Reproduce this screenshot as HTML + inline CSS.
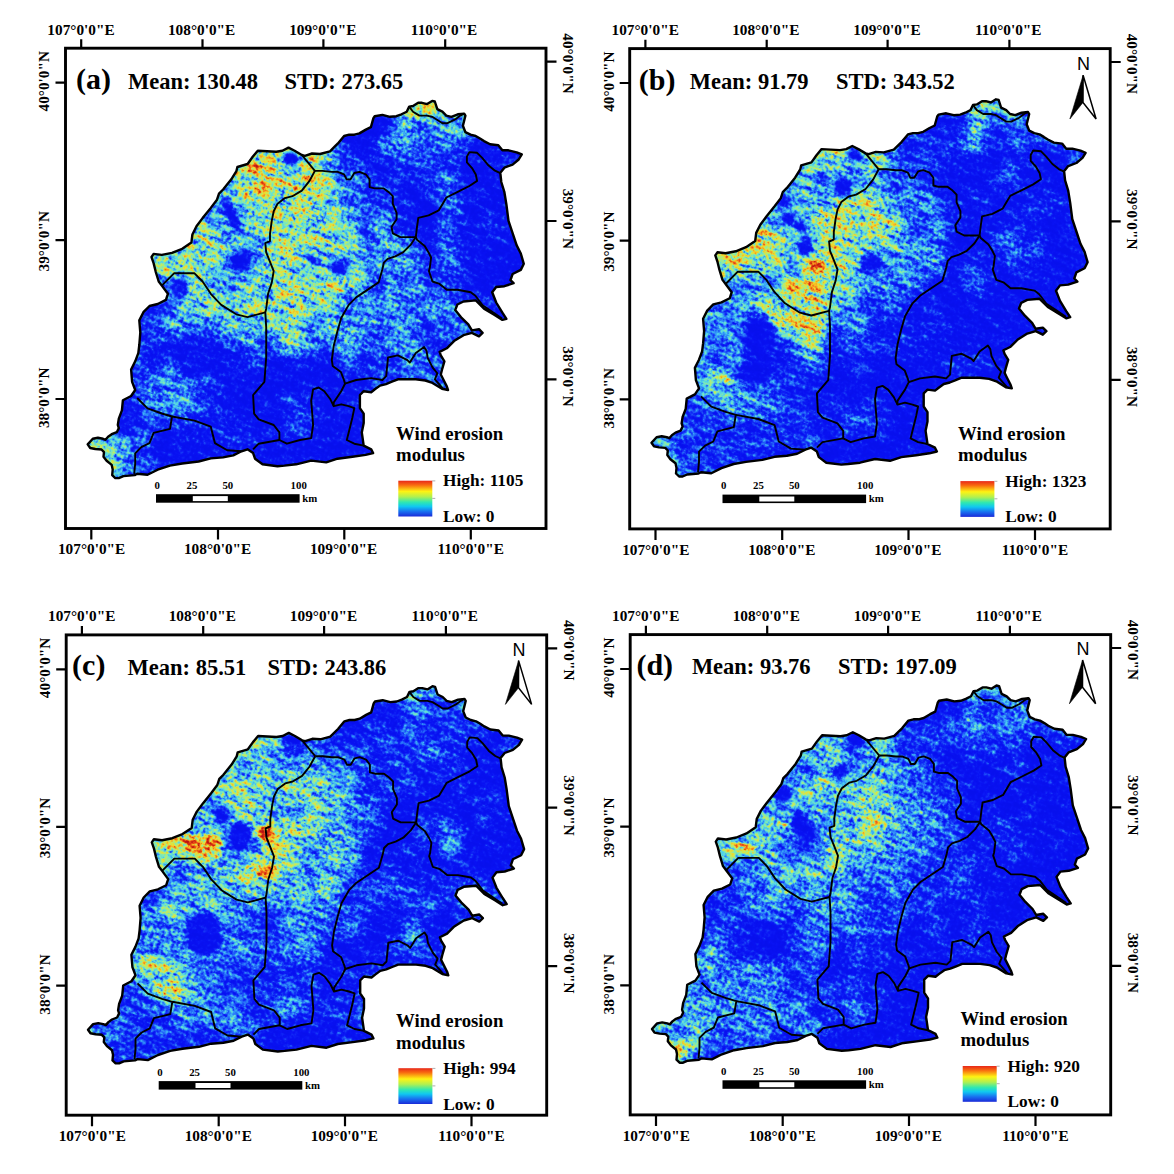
<!DOCTYPE html>
<html><head><meta charset="utf-8"><title>Wind erosion modulus maps</title>
<style>html,body{margin:0;padding:0;background:#fff;}body{width:1174px;height:1174px;overflow:hidden;}svg{display:block;}</style>
</head><body>
<svg width="1174" height="1174" viewBox="0 0 1174 1174" font-family="Liberation Serif, Times New Roman, serif" font-weight="bold" fill="#000">
<rect width="1174" height="1174" fill="#fff"/>
<defs>
<path id="outline" d="M151.5,257.0 L153.6,253.9 L161.8,254.9 L172.0,252.9 L182.2,248.8 L191.4,242.6 L192.4,234.5 L196.5,226.3 L202.6,218.1 L210.8,207.9 L217.0,199.7 L219.0,193.6 L223.1,189.5 L231.3,179.3 L236.4,171.1 L237.4,167.0 L247.6,164.0 L252.7,156.8 L257.8,150.7 L276.2,151.7 L282.4,150.7 L288.5,147.6 L294.6,150.7 L301.8,155.0 L304.9,155.8 L312.0,153.5 L320.0,154.0 L330.0,151.3 L335.1,146.2 L337.7,143.7 L344.1,136.0 L349.2,134.7 L354.3,134.7 L359.4,133.4 L365.8,129.6 L370.9,127.1 L373.4,118.1 L374.7,116.2 L382.4,114.9 L390.0,116.8 L396.4,116.2 L401.5,114.3 L406.7,111.7 L409.2,106.6 L413.0,106.0 L418.2,102.8 L422.0,102.8 L427.1,104.1 L432.2,100.9 L434.8,101.5 L437.3,109.2 L442.4,111.7 L446.3,115.6 L451.4,116.8 L457.8,114.3 L464.2,113.6 L465.4,115.6 L462.9,125.8 L465.4,132.2 L470.5,134.7 L475.7,136.0 L480.0,138.5 L484.0,141.1 L490.1,144.2 L498.3,145.2 L502.4,150.3 L508.5,150.3 L516.7,152.3 L521.8,154.4 L518.7,159.5 L512.6,164.6 L504.4,167.7 L500.3,172.8 L501.3,182.0 L504.4,192.2 L506.4,204.5 L508.5,220.8 L512.6,233.1 L516.7,245.4 L520.8,253.5 L523.8,263.8 L520.8,269.9 L512.6,274.0 L510.5,280.1 L513.6,283.2 L504.4,286.2 L496.2,287.0 L492.2,292.3 L496.2,302.5 L502.4,312.7 L506.4,318.8 L502.4,319.9 L494.2,314.8 L484.0,308.6 L475.8,300.4 L463.5,301.5 L457.4,304.5 L455.2,310.1 L461.1,317.3 L468.3,324.4 L471.9,330.4 L479.0,329.2 L482.6,332.8 L479.0,336.3 L471.9,332.8 L463.5,335.2 L454.0,341.1 L446.8,348.3 L439.6,351.9 L440.8,355.4 L444.4,361.4 L442.0,369.7 L440.8,374.5 L443.2,379.3 L446.8,386.4 L448.0,390.0 L442.0,388.8 L432.5,382.9 L425.3,380.5 L415.8,379.3 L397.9,379.3 L391.9,381.7 L386.0,384.1 L380.0,385.6 L374.9,389.3 L371.2,392.2 L363.7,391.2 L359.9,395.0 L359.9,408.1 L363.7,413.7 L363.7,423.1 L361.8,432.4 L363.7,445.6 L371.2,449.3 L373.1,453.1 L365.6,454.9 L352.4,456.8 L337.5,458.7 L326.2,462.4 L311.2,460.6 L296.2,464.3 L284.4,465.6 L277.5,466.2 L262.5,464.3 L255.0,458.7 L253.1,453.1 L247.5,449.3 L241.5,451.3 L233.3,455.4 L223.1,457.4 L210.8,458.4 L198.6,461.5 L182.2,463.5 L169.9,465.6 L157.7,469.7 L147.5,474.8 L137.2,473.8 L134.7,475.1 L129.1,475.6 L123.4,476.1 L118.8,478.1 L115.3,478.1 L112.2,475.1 L112.7,469.5 L111.7,464.9 L106.6,460.8 L103.5,456.7 L104.0,452.1 L101.5,449.5 L95.3,449.0 L90.2,448.0 L87.7,444.4 L92.8,438.8 L97.9,437.8 L103.0,438.8 L105.5,439.8 L108.1,436.8 L111.7,434.2 L116.8,432.2 L118.8,428.1 L117.8,425.0 L118.8,418.6 L121.9,410.4 L122.9,400.2 L131.1,396.0 L135.2,390.0 L132.1,381.8 L131.1,369.5 L135.2,361.3 L138.3,353.1 L139.3,345.0 L140.3,332.7 L139.3,320.4 L143.4,312.2 L149.5,306.0 L157.7,304.0 L165.9,299.9 L167.9,293.8 L161.8,285.6 L158.7,281.5 L155.6,271.3 L153.6,263.1 Z"/>
<clipPath id="clip"><use href="#outline"/></clipPath>
<linearGradient id="ramp" x1="0" y1="0" x2="0" y2="1">
<stop offset="0" stop-color="#e8281a"/>
<stop offset="0.12" stop-color="#f86a10"/>
<stop offset="0.3" stop-color="#fef313"/>
<stop offset="0.45" stop-color="#b0f050"/>
<stop offset="0.6" stop-color="#30e8b0"/>
<stop offset="0.72" stop-color="#10c8f0"/>
<stop offset="0.86" stop-color="#1870f0"/>
<stop offset="1" stop-color="#1a2ad8"/>
</linearGradient>
<filter id="gb" x="50" y="65" width="505" height="440" filterUnits="userSpaceOnUse" color-interpolation-filters="sRGB"><feGaussianBlur stdDeviation="6.5"/></filter>
<filter id="fa" x="-20" y="-40" width="640" height="660" filterUnits="userSpaceOnUse" color-interpolation-filters="sRGB">
<feGaussianBlur in="SourceGraphic" stdDeviation="2.2" result="fld"/>
<feTurbulence type="fractalNoise" baseFrequency="0.3" numOctaves="2" seed="3" result="n1"/>
<feColorMatrix in="n1" type="matrix" values="1 0 0 0 0  1 0 0 0 0  1 0 0 0 0  0 0 0 0 1" result="g1"/>
<feTurbulence type="fractalNoise" baseFrequency="0.05 0.18" numOctaves="3" seed="103" result="n2"/>
<feColorMatrix in="n2" type="matrix" values="1 0 0 0 0  1 0 0 0 0  1 0 0 0 0  0 0 0 0 1" result="g2"/>
<feComposite in="g1" in2="g2" operator="arithmetic" k1="0" k2="1.0" k3="0.9" k4="-0.45" result="nn"/>
<feComposite in="fld" in2="nn" operator="arithmetic" k1="1.0" k2="0.5" k3="0.3" k4="-0.15" result="v"/>
<feComponentTransfer in="v" result="c">
<feFuncR type="table" tableValues="0.031 0.032 0.033 0.034 0.035 0.041 0.051 0.061 0.084 0.111 0.137 0.162 0.186 0.221 0.263 0.305 0.357 0.412 0.466 0.525 0.601 0.678 0.754 0.814 0.863 0.912 0.961 0.961 0.961 0.961 0.961 0.952 0.937 0.923 0.908 0.882 0.850 0.817 0.784 0.745 0.706"/>
<feFuncG type="table" tableValues="0.063 0.065 0.066 0.068 0.070 0.087 0.115 0.143 0.218 0.305 0.392 0.474 0.556 0.643 0.734 0.825 0.861 0.882 0.904 0.922 0.922 0.922 0.922 0.912 0.895 0.879 0.863 0.791 0.720 0.649 0.578 0.502 0.424 0.345 0.267 0.216 0.183 0.150 0.118 0.098 0.078"/>
<feFuncB type="table" tableValues="0.933 0.939 0.944 0.949 0.955 0.959 0.961 0.964 0.969 0.975 0.980 0.980 0.980 0.968 0.947 0.926 0.874 0.814 0.754 0.686 0.588 0.490 0.392 0.320 0.266 0.211 0.157 0.148 0.139 0.130 0.121 0.112 0.102 0.092 0.082 0.078 0.078 0.078 0.078 0.078 0.078"/>
<feFuncA type="linear" slope="0" intercept="1"/>
</feComponentTransfer>
<feGaussianBlur in="c" stdDeviation="0.5"/>
</filter>
<filter id="fb" x="-20" y="-40" width="640" height="660" filterUnits="userSpaceOnUse" color-interpolation-filters="sRGB">
<feGaussianBlur in="SourceGraphic" stdDeviation="2.2" result="fld"/>
<feTurbulence type="fractalNoise" baseFrequency="0.3" numOctaves="2" seed="7" result="n1"/>
<feColorMatrix in="n1" type="matrix" values="1 0 0 0 0  1 0 0 0 0  1 0 0 0 0  0 0 0 0 1" result="g1"/>
<feTurbulence type="fractalNoise" baseFrequency="0.05 0.18" numOctaves="3" seed="107" result="n2"/>
<feColorMatrix in="n2" type="matrix" values="1 0 0 0 0  1 0 0 0 0  1 0 0 0 0  0 0 0 0 1" result="g2"/>
<feComposite in="g1" in2="g2" operator="arithmetic" k1="0" k2="1.0" k3="0.9" k4="-0.45" result="nn"/>
<feComposite in="fld" in2="nn" operator="arithmetic" k1="1.0" k2="0.5" k3="0.3" k4="-0.15" result="v"/>
<feComponentTransfer in="v" result="c">
<feFuncR type="table" tableValues="0.031 0.032 0.033 0.034 0.035 0.041 0.051 0.061 0.084 0.111 0.137 0.162 0.186 0.221 0.263 0.305 0.357 0.412 0.466 0.525 0.601 0.678 0.754 0.814 0.863 0.912 0.961 0.961 0.961 0.961 0.961 0.952 0.937 0.923 0.908 0.882 0.850 0.817 0.784 0.745 0.706"/>
<feFuncG type="table" tableValues="0.063 0.065 0.066 0.068 0.070 0.087 0.115 0.143 0.218 0.305 0.392 0.474 0.556 0.643 0.734 0.825 0.861 0.882 0.904 0.922 0.922 0.922 0.922 0.912 0.895 0.879 0.863 0.791 0.720 0.649 0.578 0.502 0.424 0.345 0.267 0.216 0.183 0.150 0.118 0.098 0.078"/>
<feFuncB type="table" tableValues="0.933 0.939 0.944 0.949 0.955 0.959 0.961 0.964 0.969 0.975 0.980 0.980 0.980 0.968 0.947 0.926 0.874 0.814 0.754 0.686 0.588 0.490 0.392 0.320 0.266 0.211 0.157 0.148 0.139 0.130 0.121 0.112 0.102 0.092 0.082 0.078 0.078 0.078 0.078 0.078 0.078"/>
<feFuncA type="linear" slope="0" intercept="1"/>
</feComponentTransfer>
<feGaussianBlur in="c" stdDeviation="0.5"/>
</filter>
<filter id="fc" x="-20" y="-40" width="640" height="660" filterUnits="userSpaceOnUse" color-interpolation-filters="sRGB">
<feGaussianBlur in="SourceGraphic" stdDeviation="2.2" result="fld"/>
<feTurbulence type="fractalNoise" baseFrequency="0.3" numOctaves="2" seed="11" result="n1"/>
<feColorMatrix in="n1" type="matrix" values="1 0 0 0 0  1 0 0 0 0  1 0 0 0 0  0 0 0 0 1" result="g1"/>
<feTurbulence type="fractalNoise" baseFrequency="0.05 0.18" numOctaves="3" seed="111" result="n2"/>
<feColorMatrix in="n2" type="matrix" values="1 0 0 0 0  1 0 0 0 0  1 0 0 0 0  0 0 0 0 1" result="g2"/>
<feComposite in="g1" in2="g2" operator="arithmetic" k1="0" k2="1.0" k3="0.9" k4="-0.45" result="nn"/>
<feComposite in="fld" in2="nn" operator="arithmetic" k1="1.0" k2="0.5" k3="0.3" k4="-0.15" result="v"/>
<feComponentTransfer in="v" result="c">
<feFuncR type="table" tableValues="0.031 0.032 0.033 0.034 0.035 0.041 0.051 0.061 0.084 0.111 0.137 0.162 0.186 0.221 0.263 0.305 0.357 0.412 0.466 0.525 0.601 0.678 0.754 0.814 0.863 0.912 0.961 0.961 0.961 0.961 0.961 0.952 0.937 0.923 0.908 0.882 0.850 0.817 0.784 0.745 0.706"/>
<feFuncG type="table" tableValues="0.063 0.065 0.066 0.068 0.070 0.087 0.115 0.143 0.218 0.305 0.392 0.474 0.556 0.643 0.734 0.825 0.861 0.882 0.904 0.922 0.922 0.922 0.922 0.912 0.895 0.879 0.863 0.791 0.720 0.649 0.578 0.502 0.424 0.345 0.267 0.216 0.183 0.150 0.118 0.098 0.078"/>
<feFuncB type="table" tableValues="0.933 0.939 0.944 0.949 0.955 0.959 0.961 0.964 0.969 0.975 0.980 0.980 0.980 0.968 0.947 0.926 0.874 0.814 0.754 0.686 0.588 0.490 0.392 0.320 0.266 0.211 0.157 0.148 0.139 0.130 0.121 0.112 0.102 0.092 0.082 0.078 0.078 0.078 0.078 0.078 0.078"/>
<feFuncA type="linear" slope="0" intercept="1"/>
</feComponentTransfer>
<feGaussianBlur in="c" stdDeviation="0.5"/>
</filter>
<filter id="fd" x="-20" y="-40" width="640" height="660" filterUnits="userSpaceOnUse" color-interpolation-filters="sRGB">
<feGaussianBlur in="SourceGraphic" stdDeviation="2.2" result="fld"/>
<feTurbulence type="fractalNoise" baseFrequency="0.3" numOctaves="2" seed="17" result="n1"/>
<feColorMatrix in="n1" type="matrix" values="1 0 0 0 0  1 0 0 0 0  1 0 0 0 0  0 0 0 0 1" result="g1"/>
<feTurbulence type="fractalNoise" baseFrequency="0.05 0.18" numOctaves="3" seed="117" result="n2"/>
<feColorMatrix in="n2" type="matrix" values="1 0 0 0 0  1 0 0 0 0  1 0 0 0 0  0 0 0 0 1" result="g2"/>
<feComposite in="g1" in2="g2" operator="arithmetic" k1="0" k2="1.0" k3="0.9" k4="-0.45" result="nn"/>
<feComposite in="fld" in2="nn" operator="arithmetic" k1="1.0" k2="0.5" k3="0.3" k4="-0.15" result="v"/>
<feComponentTransfer in="v" result="c">
<feFuncR type="table" tableValues="0.031 0.032 0.033 0.034 0.035 0.041 0.051 0.061 0.084 0.111 0.137 0.162 0.186 0.221 0.263 0.305 0.357 0.412 0.466 0.525 0.601 0.678 0.754 0.814 0.863 0.912 0.961 0.961 0.961 0.961 0.961 0.952 0.937 0.923 0.908 0.882 0.850 0.817 0.784 0.745 0.706"/>
<feFuncG type="table" tableValues="0.063 0.065 0.066 0.068 0.070 0.087 0.115 0.143 0.218 0.305 0.392 0.474 0.556 0.643 0.734 0.825 0.861 0.882 0.904 0.922 0.922 0.922 0.922 0.912 0.895 0.879 0.863 0.791 0.720 0.649 0.578 0.502 0.424 0.345 0.267 0.216 0.183 0.150 0.118 0.098 0.078"/>
<feFuncB type="table" tableValues="0.933 0.939 0.944 0.949 0.955 0.959 0.961 0.964 0.969 0.975 0.980 0.980 0.980 0.968 0.947 0.926 0.874 0.814 0.754 0.686 0.588 0.490 0.392 0.320 0.266 0.211 0.157 0.148 0.139 0.130 0.121 0.112 0.102 0.092 0.082 0.078 0.078 0.078 0.078 0.078 0.078"/>
<feFuncA type="linear" slope="0" intercept="1"/>
</feComponentTransfer>
<feGaussianBlur in="c" stdDeviation="0.5"/>
</filter>
</defs>
<g transform="translate(0,0)">
<rect x="65.5" y="48.2" width="480.5" height="480.3" fill="none" stroke="#000" stroke-width="2.9"/>
<path d="M81.2,39.3 V48.2 M202.5,39.3 V48.2 M323.4,39.3 V48.2 M445.2,39.3 V48.2 M91.3,528.5 V539.6 M218,528.5 V539.6 M344.3,528.5 V539.6 M470.8,528.5 V539.6 M55.5,82.6 H65.5 M55.5,240.2 H65.5 M55.5,399 H65.5 M546,61.6 H556.5 M546,221 H556.5 M546,379.4 H556.5" stroke="#000" stroke-width="2.2" fill="none"/>
<g font-size="15.3" text-anchor="middle">
<text x="81.0" y="34.8">107°0'0"E</text>
<text x="201.6" y="34.8">108°0'0"E</text>
<text x="322.8" y="34.8">109°0'0"E</text>
<text x="444.1" y="34.8">110°0'0"E</text>
<text x="91.6" y="554.3">107°0'0"E</text>
<text x="217.6" y="554.3">108°0'0"E</text>
<text x="343.6" y="554.3">109°0'0"E</text>
<text x="470.7" y="554.3">110°0'0"E</text>
<text transform="translate(49.3,81.2) rotate(-90)">40°0'0"N</text>
<text transform="translate(49.3,241.2) rotate(-90)">39°0'0"N</text>
<text transform="translate(49.3,397.8) rotate(-90)">38°0'0"N</text>
<text transform="translate(562.8,63.5) rotate(90)">40°0'0"N</text>
<text transform="translate(562.8,218.9) rotate(90)">39°0'0"N</text>
<text transform="translate(562.8,376.5) rotate(90)">38°0'0"N</text>
</g>
<text x="76.1" y="89.39999999999999" font-size="30">(a)</text>
<text x="128.1" y="88.8" font-size="22.5">Mean: 130.48</text>
<text x="284.6" y="88.8" font-size="22.5">STD: 273.65</text>
<g transform="translate(0,0)">
<g clip-path="url(#clip)"><g transform="rotate(22 300 290)" filter="url(#fa)"><g transform="rotate(-22 300 290)">
<g filter="url(#gb)">
<rect x="60" y="75" width="40" height="20" fill="rgb(97,97,97)"/>
<rect x="100" y="75" width="40" height="20" fill="rgb(96,96,96)"/>
<rect x="140" y="75" width="20" height="20" fill="rgb(97,97,97)"/>
<rect x="160" y="75" width="20" height="20" fill="rgb(125,125,125)"/>
<rect x="180" y="75" width="120" height="20" fill="rgb(145,145,145)"/>
<rect x="300" y="75" width="20" height="20" fill="rgb(126,126,126)"/>
<rect x="320" y="75" width="20" height="20" fill="rgb(59,59,59)"/>
<rect x="340" y="75" width="20" height="20" fill="rgb(0,0,0)"/>
<rect x="360" y="75" width="20" height="20" fill="rgb(10,10,10)"/>
<rect x="380" y="75" width="20" height="20" fill="rgb(64,64,64)"/>
<rect x="400" y="75" width="40" height="20" fill="rgb(145,145,145)"/>
<rect x="440" y="75" width="20" height="20" fill="rgb(97,97,97)"/>
<rect x="460" y="75" width="20" height="20" fill="rgb(84,84,84)"/>
<rect x="480" y="75" width="20" height="20" fill="rgb(71,71,71)"/>
<rect x="500" y="75" width="20" height="20" fill="rgb(43,43,43)"/>
<rect x="520" y="75" width="40" height="20" fill="rgb(20,20,20)"/>
<rect x="60" y="95" width="40" height="20" fill="rgb(97,97,97)"/>
<rect x="100" y="95" width="40" height="20" fill="rgb(96,96,96)"/>
<rect x="140" y="95" width="20" height="20" fill="rgb(97,97,97)"/>
<rect x="160" y="95" width="20" height="20" fill="rgb(125,125,125)"/>
<rect x="180" y="95" width="120" height="20" fill="rgb(145,145,145)"/>
<rect x="300" y="95" width="20" height="20" fill="rgb(126,126,126)"/>
<rect x="320" y="95" width="20" height="20" fill="rgb(59,59,59)"/>
<rect x="340" y="95" width="20" height="20" fill="rgb(0,0,0)"/>
<rect x="360" y="95" width="20" height="20" fill="rgb(10,10,10)"/>
<rect x="380" y="95" width="20" height="20" fill="rgb(64,64,64)"/>
<rect x="400" y="95" width="40" height="20" fill="rgb(145,145,145)"/>
<rect x="440" y="95" width="20" height="20" fill="rgb(97,97,97)"/>
<rect x="460" y="95" width="20" height="20" fill="rgb(84,84,84)"/>
<rect x="480" y="95" width="20" height="20" fill="rgb(71,71,71)"/>
<rect x="500" y="95" width="20" height="20" fill="rgb(43,43,43)"/>
<rect x="520" y="95" width="40" height="20" fill="rgb(20,20,20)"/>
<rect x="60" y="115" width="40" height="20" fill="rgb(110,110,110)"/>
<rect x="100" y="115" width="20" height="20" fill="rgb(97,97,97)"/>
<rect x="120" y="115" width="20" height="20" fill="rgb(96,96,96)"/>
<rect x="140" y="115" width="20" height="20" fill="rgb(95,95,95)"/>
<rect x="160" y="115" width="20" height="20" fill="rgb(97,97,97)"/>
<rect x="180" y="115" width="20" height="20" fill="rgb(130,130,130)"/>
<rect x="200" y="115" width="120" height="20" fill="rgb(145,145,145)"/>
<rect x="320" y="115" width="20" height="20" fill="rgb(84,84,84)"/>
<rect x="340" y="115" width="20" height="20" fill="rgb(14,14,14)"/>
<rect x="360" y="115" width="20" height="20" fill="rgb(0,0,0)"/>
<rect x="380" y="115" width="20" height="20" fill="rgb(20,20,20)"/>
<rect x="400" y="115" width="20" height="20" fill="rgb(97,97,97)"/>
<rect x="420" y="115" width="20" height="20" fill="rgb(71,71,71)"/>
<rect x="440" y="115" width="20" height="20" fill="rgb(97,97,97)"/>
<rect x="460" y="115" width="20" height="20" fill="rgb(71,71,71)"/>
<rect x="480" y="115" width="20" height="20" fill="rgb(43,43,43)"/>
<rect x="500" y="115" width="20" height="20" fill="rgb(20,20,20)"/>
<rect x="520" y="115" width="40" height="20" fill="rgb(31,31,31)"/>
<rect x="60" y="135" width="40" height="20" fill="rgb(122,122,122)"/>
<rect x="100" y="135" width="20" height="20" fill="rgb(110,110,110)"/>
<rect x="120" y="135" width="20" height="20" fill="rgb(97,97,97)"/>
<rect x="140" y="135" width="20" height="20" fill="rgb(95,95,95)"/>
<rect x="160" y="135" width="20" height="20" fill="rgb(94,94,94)"/>
<rect x="180" y="135" width="20" height="20" fill="rgb(97,97,97)"/>
<rect x="200" y="135" width="20" height="20" fill="rgb(131,131,131)"/>
<rect x="220" y="135" width="100" height="20" fill="rgb(145,145,145)"/>
<rect x="320" y="135" width="20" height="20" fill="rgb(87,87,87)"/>
<rect x="340" y="135" width="40" height="20" fill="rgb(20,20,20)"/>
<rect x="380" y="135" width="20" height="20" fill="rgb(97,97,97)"/>
<rect x="400" y="135" width="20" height="20" fill="rgb(71,71,71)"/>
<rect x="420" y="135" width="20" height="20" fill="rgb(43,43,43)"/>
<rect x="440" y="135" width="20" height="20" fill="rgb(71,71,71)"/>
<rect x="460" y="135" width="20" height="20" fill="rgb(43,43,43)"/>
<rect x="480" y="135" width="20" height="20" fill="rgb(20,20,20)"/>
<rect x="500" y="135" width="20" height="20" fill="rgb(28,28,28)"/>
<rect x="520" y="135" width="40" height="20" fill="rgb(43,43,43)"/>
<rect x="60" y="155" width="60" height="20" fill="rgb(122,122,122)"/>
<rect x="120" y="155" width="20" height="20" fill="rgb(110,110,110)"/>
<rect x="140" y="155" width="20" height="20" fill="rgb(97,97,97)"/>
<rect x="160" y="155" width="20" height="20" fill="rgb(94,94,94)"/>
<rect x="180" y="155" width="20" height="20" fill="rgb(91,91,91)"/>
<rect x="200" y="155" width="20" height="20" fill="rgb(97,97,97)"/>
<rect x="220" y="155" width="20" height="20" fill="rgb(134,134,134)"/>
<rect x="240" y="155" width="40" height="20" fill="rgb(145,145,145)"/>
<rect x="280" y="155" width="20" height="20" fill="rgb(71,71,71)"/>
<rect x="300" y="155" width="20" height="20" fill="rgb(145,145,145)"/>
<rect x="320" y="155" width="20" height="20" fill="rgb(71,71,71)"/>
<rect x="340" y="155" width="40" height="20" fill="rgb(43,43,43)"/>
<rect x="380" y="155" width="20" height="20" fill="rgb(20,20,20)"/>
<rect x="400" y="155" width="60" height="20" fill="rgb(43,43,43)"/>
<rect x="460" y="155" width="40" height="20" fill="rgb(20,20,20)"/>
<rect x="500" y="155" width="20" height="20" fill="rgb(43,43,43)"/>
<rect x="520" y="155" width="40" height="20" fill="rgb(32,32,32)"/>
<rect x="60" y="175" width="80" height="20" fill="rgb(122,122,122)"/>
<rect x="140" y="175" width="20" height="20" fill="rgb(110,110,110)"/>
<rect x="160" y="175" width="20" height="20" fill="rgb(97,97,97)"/>
<rect x="180" y="175" width="20" height="20" fill="rgb(91,91,91)"/>
<rect x="200" y="175" width="20" height="20" fill="rgb(84,84,84)"/>
<rect x="220" y="175" width="20" height="20" fill="rgb(97,97,97)"/>
<rect x="240" y="175" width="80" height="20" fill="rgb(145,145,145)"/>
<rect x="320" y="175" width="20" height="20" fill="rgb(97,97,97)"/>
<rect x="340" y="175" width="20" height="20" fill="rgb(71,71,71)"/>
<rect x="360" y="175" width="40" height="20" fill="rgb(43,43,43)"/>
<rect x="400" y="175" width="20" height="20" fill="rgb(20,20,20)"/>
<rect x="420" y="175" width="20" height="20" fill="rgb(43,43,43)"/>
<rect x="440" y="175" width="20" height="20" fill="rgb(71,71,71)"/>
<rect x="460" y="175" width="60" height="20" fill="rgb(20,20,20)"/>
<rect x="520" y="175" width="40" height="20" fill="rgb(28,28,28)"/>
<rect x="60" y="195" width="100" height="20" fill="rgb(122,122,122)"/>
<rect x="160" y="195" width="20" height="20" fill="rgb(111,111,111)"/>
<rect x="180" y="195" width="20" height="20" fill="rgb(97,97,97)"/>
<rect x="200" y="195" width="20" height="20" fill="rgb(84,84,84)"/>
<rect x="220" y="195" width="20" height="20" fill="rgb(71,71,71)"/>
<rect x="240" y="195" width="100" height="20" fill="rgb(122,122,122)"/>
<rect x="340" y="195" width="20" height="20" fill="rgb(71,71,71)"/>
<rect x="360" y="195" width="40" height="20" fill="rgb(43,43,43)"/>
<rect x="400" y="195" width="40" height="20" fill="rgb(20,20,20)"/>
<rect x="440" y="195" width="20" height="20" fill="rgb(71,71,71)"/>
<rect x="460" y="195" width="100" height="20" fill="rgb(20,20,20)"/>
<rect x="60" y="215" width="40" height="20" fill="rgb(119,119,119)"/>
<rect x="100" y="215" width="80" height="20" fill="rgb(122,122,122)"/>
<rect x="180" y="215" width="20" height="20" fill="rgb(114,114,114)"/>
<rect x="200" y="215" width="20" height="20" fill="rgb(97,97,97)"/>
<rect x="220" y="215" width="20" height="20" fill="rgb(71,71,71)"/>
<rect x="240" y="215" width="20" height="20" fill="rgb(97,97,97)"/>
<rect x="260" y="215" width="80" height="20" fill="rgb(122,122,122)"/>
<rect x="340" y="215" width="20" height="20" fill="rgb(97,97,97)"/>
<rect x="360" y="215" width="40" height="20" fill="rgb(71,71,71)"/>
<rect x="400" y="215" width="40" height="20" fill="rgb(20,20,20)"/>
<rect x="440" y="215" width="20" height="20" fill="rgb(43,43,43)"/>
<rect x="460" y="215" width="20" height="20" fill="rgb(20,20,20)"/>
<rect x="480" y="215" width="20" height="20" fill="rgb(43,43,43)"/>
<rect x="500" y="215" width="60" height="20" fill="rgb(20,20,20)"/>
<rect x="60" y="235" width="40" height="20" fill="rgb(114,114,114)"/>
<rect x="100" y="235" width="20" height="20" fill="rgb(116,116,116)"/>
<rect x="120" y="235" width="100" height="20" fill="rgb(122,122,122)"/>
<rect x="220" y="235" width="20" height="20" fill="rgb(97,97,97)"/>
<rect x="240" y="235" width="20" height="20" fill="rgb(71,71,71)"/>
<rect x="260" y="235" width="80" height="20" fill="rgb(122,122,122)"/>
<rect x="340" y="235" width="20" height="20" fill="rgb(97,97,97)"/>
<rect x="360" y="235" width="20" height="20" fill="rgb(71,71,71)"/>
<rect x="380" y="235" width="20" height="20" fill="rgb(97,97,97)"/>
<rect x="400" y="235" width="20" height="20" fill="rgb(71,71,71)"/>
<rect x="420" y="235" width="20" height="20" fill="rgb(20,20,20)"/>
<rect x="440" y="235" width="20" height="20" fill="rgb(71,71,71)"/>
<rect x="460" y="235" width="100" height="20" fill="rgb(20,20,20)"/>
<rect x="60" y="255" width="40" height="20" fill="rgb(100,100,100)"/>
<rect x="100" y="255" width="20" height="20" fill="rgb(104,104,104)"/>
<rect x="120" y="255" width="20" height="20" fill="rgb(110,110,110)"/>
<rect x="140" y="255" width="60" height="20" fill="rgb(122,122,122)"/>
<rect x="200" y="255" width="20" height="20" fill="rgb(97,97,97)"/>
<rect x="220" y="255" width="20" height="20" fill="rgb(71,71,71)"/>
<rect x="240" y="255" width="20" height="20" fill="rgb(43,43,43)"/>
<rect x="260" y="255" width="40" height="20" fill="rgb(122,122,122)"/>
<rect x="300" y="255" width="20" height="20" fill="rgb(97,97,97)"/>
<rect x="320" y="255" width="20" height="20" fill="rgb(71,71,71)"/>
<rect x="340" y="255" width="20" height="20" fill="rgb(97,97,97)"/>
<rect x="360" y="255" width="60" height="20" fill="rgb(71,71,71)"/>
<rect x="420" y="255" width="20" height="20" fill="rgb(43,43,43)"/>
<rect x="440" y="255" width="20" height="20" fill="rgb(71,71,71)"/>
<rect x="460" y="255" width="100" height="20" fill="rgb(20,20,20)"/>
<rect x="60" y="275" width="60" height="20" fill="rgb(81,81,81)"/>
<rect x="120" y="275" width="20" height="20" fill="rgb(80,80,80)"/>
<rect x="140" y="275" width="20" height="20" fill="rgb(97,97,97)"/>
<rect x="160" y="275" width="20" height="20" fill="rgb(71,71,71)"/>
<rect x="180" y="275" width="20" height="20" fill="rgb(122,122,122)"/>
<rect x="200" y="275" width="20" height="20" fill="rgb(97,97,97)"/>
<rect x="220" y="275" width="20" height="20" fill="rgb(71,71,71)"/>
<rect x="240" y="275" width="20" height="20" fill="rgb(97,97,97)"/>
<rect x="260" y="275" width="100" height="20" fill="rgb(122,122,122)"/>
<rect x="360" y="275" width="60" height="20" fill="rgb(71,71,71)"/>
<rect x="420" y="275" width="40" height="20" fill="rgb(43,43,43)"/>
<rect x="460" y="275" width="100" height="20" fill="rgb(20,20,20)"/>
<rect x="60" y="295" width="40" height="20" fill="rgb(60,60,60)"/>
<rect x="100" y="295" width="20" height="20" fill="rgb(56,56,56)"/>
<rect x="120" y="295" width="20" height="20" fill="rgb(53,53,53)"/>
<rect x="140" y="295" width="20" height="20" fill="rgb(20,20,20)"/>
<rect x="160" y="295" width="20" height="20" fill="rgb(43,43,43)"/>
<rect x="180" y="295" width="40" height="20" fill="rgb(122,122,122)"/>
<rect x="220" y="295" width="20" height="20" fill="rgb(97,97,97)"/>
<rect x="240" y="295" width="80" height="20" fill="rgb(122,122,122)"/>
<rect x="320" y="295" width="20" height="20" fill="rgb(97,97,97)"/>
<rect x="340" y="295" width="120" height="20" fill="rgb(71,71,71)"/>
<rect x="460" y="295" width="40" height="20" fill="rgb(43,43,43)"/>
<rect x="500" y="295" width="20" height="20" fill="rgb(28,28,28)"/>
<rect x="520" y="295" width="40" height="20" fill="rgb(20,20,20)"/>
<rect x="60" y="315" width="40" height="20" fill="rgb(46,46,46)"/>
<rect x="100" y="315" width="20" height="20" fill="rgb(43,43,43)"/>
<rect x="120" y="315" width="20" height="20" fill="rgb(36,36,36)"/>
<rect x="140" y="315" width="20" height="20" fill="rgb(43,43,43)"/>
<rect x="160" y="315" width="20" height="20" fill="rgb(97,97,97)"/>
<rect x="180" y="315" width="40" height="20" fill="rgb(71,71,71)"/>
<rect x="220" y="315" width="60" height="20" fill="rgb(97,97,97)"/>
<rect x="280" y="315" width="20" height="20" fill="rgb(122,122,122)"/>
<rect x="300" y="315" width="20" height="20" fill="rgb(71,71,71)"/>
<rect x="320" y="315" width="20" height="20" fill="rgb(97,97,97)"/>
<rect x="340" y="315" width="80" height="20" fill="rgb(71,71,71)"/>
<rect x="420" y="315" width="20" height="20" fill="rgb(43,43,43)"/>
<rect x="440" y="315" width="20" height="20" fill="rgb(71,71,71)"/>
<rect x="460" y="315" width="20" height="20" fill="rgb(55,55,55)"/>
<rect x="480" y="315" width="40" height="20" fill="rgb(43,43,43)"/>
<rect x="520" y="315" width="40" height="20" fill="rgb(31,31,31)"/>
<rect x="60" y="335" width="100" height="20" fill="rgb(43,43,43)"/>
<rect x="160" y="335" width="60" height="20" fill="rgb(20,20,20)"/>
<rect x="220" y="335" width="20" height="20" fill="rgb(43,43,43)"/>
<rect x="240" y="335" width="20" height="20" fill="rgb(71,71,71)"/>
<rect x="260" y="335" width="20" height="20" fill="rgb(43,43,43)"/>
<rect x="280" y="335" width="20" height="20" fill="rgb(122,122,122)"/>
<rect x="300" y="335" width="40" height="20" fill="rgb(71,71,71)"/>
<rect x="340" y="335" width="20" height="20" fill="rgb(97,97,97)"/>
<rect x="360" y="335" width="20" height="20" fill="rgb(43,43,43)"/>
<rect x="380" y="335" width="40" height="20" fill="rgb(71,71,71)"/>
<rect x="420" y="335" width="40" height="20" fill="rgb(43,43,43)"/>
<rect x="460" y="335" width="20" height="20" fill="rgb(57,57,57)"/>
<rect x="480" y="335" width="20" height="20" fill="rgb(48,48,48)"/>
<rect x="500" y="335" width="60" height="20" fill="rgb(43,43,43)"/>
<rect x="60" y="355" width="40" height="20" fill="rgb(38,38,38)"/>
<rect x="100" y="355" width="20" height="20" fill="rgb(43,43,43)"/>
<rect x="120" y="355" width="20" height="20" fill="rgb(50,50,50)"/>
<rect x="140" y="355" width="40" height="20" fill="rgb(43,43,43)"/>
<rect x="180" y="355" width="60" height="20" fill="rgb(20,20,20)"/>
<rect x="240" y="355" width="20" height="20" fill="rgb(43,43,43)"/>
<rect x="260" y="355" width="80" height="20" fill="rgb(20,20,20)"/>
<rect x="340" y="355" width="60" height="20" fill="rgb(43,43,43)"/>
<rect x="400" y="355" width="40" height="20" fill="rgb(71,71,71)"/>
<rect x="440" y="355" width="20" height="20" fill="rgb(50,50,50)"/>
<rect x="460" y="355" width="20" height="20" fill="rgb(43,43,43)"/>
<rect x="480" y="355" width="20" height="20" fill="rgb(50,50,50)"/>
<rect x="500" y="355" width="20" height="20" fill="rgb(46,46,46)"/>
<rect x="520" y="355" width="40" height="20" fill="rgb(43,43,43)"/>
<rect x="60" y="375" width="40" height="20" fill="rgb(30,30,30)"/>
<rect x="100" y="375" width="20" height="20" fill="rgb(32,32,32)"/>
<rect x="120" y="375" width="20" height="20" fill="rgb(43,43,43)"/>
<rect x="140" y="375" width="60" height="20" fill="rgb(71,71,71)"/>
<rect x="200" y="375" width="20" height="20" fill="rgb(43,43,43)"/>
<rect x="220" y="375" width="140" height="20" fill="rgb(20,20,20)"/>
<rect x="360" y="375" width="80" height="20" fill="rgb(43,43,43)"/>
<rect x="440" y="375" width="20" height="20" fill="rgb(57,57,57)"/>
<rect x="460" y="375" width="20" height="20" fill="rgb(49,49,49)"/>
<rect x="480" y="375" width="20" height="20" fill="rgb(43,43,43)"/>
<rect x="500" y="375" width="20" height="20" fill="rgb(47,47,47)"/>
<rect x="520" y="375" width="40" height="20" fill="rgb(45,45,45)"/>
<rect x="60" y="395" width="40" height="20" fill="rgb(20,20,20)"/>
<rect x="100" y="395" width="20" height="20" fill="rgb(26,26,26)"/>
<rect x="120" y="395" width="20" height="20" fill="rgb(20,20,20)"/>
<rect x="140" y="395" width="60" height="20" fill="rgb(71,71,71)"/>
<rect x="200" y="395" width="20" height="20" fill="rgb(43,43,43)"/>
<rect x="220" y="395" width="60" height="20" fill="rgb(20,20,20)"/>
<rect x="280" y="395" width="40" height="20" fill="rgb(43,43,43)"/>
<rect x="320" y="395" width="40" height="20" fill="rgb(20,20,20)"/>
<rect x="360" y="395" width="20" height="20" fill="rgb(30,30,30)"/>
<rect x="380" y="395" width="80" height="20" fill="rgb(43,43,43)"/>
<rect x="460" y="395" width="20" height="20" fill="rgb(50,50,50)"/>
<rect x="480" y="395" width="20" height="20" fill="rgb(46,46,46)"/>
<rect x="500" y="395" width="20" height="20" fill="rgb(43,43,43)"/>
<rect x="520" y="395" width="40" height="20" fill="rgb(45,45,45)"/>
<rect x="60" y="415" width="40" height="20" fill="rgb(80,80,80)"/>
<rect x="100" y="415" width="40" height="20" fill="rgb(20,20,20)"/>
<rect x="140" y="415" width="60" height="20" fill="rgb(43,43,43)"/>
<rect x="200" y="415" width="20" height="20" fill="rgb(20,20,20)"/>
<rect x="220" y="415" width="20" height="20" fill="rgb(43,43,43)"/>
<rect x="240" y="415" width="40" height="20" fill="rgb(20,20,20)"/>
<rect x="280" y="415" width="40" height="20" fill="rgb(43,43,43)"/>
<rect x="320" y="415" width="60" height="20" fill="rgb(20,20,20)"/>
<rect x="380" y="415" width="20" height="20" fill="rgb(31,31,31)"/>
<rect x="400" y="415" width="80" height="20" fill="rgb(43,43,43)"/>
<rect x="480" y="415" width="20" height="20" fill="rgb(47,47,47)"/>
<rect x="500" y="415" width="20" height="20" fill="rgb(45,45,45)"/>
<rect x="520" y="415" width="40" height="20" fill="rgb(43,43,43)"/>
<rect x="60" y="435" width="40" height="20" fill="rgb(97,97,97)"/>
<rect x="100" y="435" width="20" height="20" fill="rgb(122,122,122)"/>
<rect x="120" y="435" width="20" height="20" fill="rgb(71,71,71)"/>
<rect x="140" y="435" width="20" height="20" fill="rgb(43,43,43)"/>
<rect x="160" y="435" width="60" height="20" fill="rgb(20,20,20)"/>
<rect x="220" y="435" width="40" height="20" fill="rgb(43,43,43)"/>
<rect x="260" y="435" width="140" height="20" fill="rgb(20,20,20)"/>
<rect x="400" y="435" width="20" height="20" fill="rgb(32,32,32)"/>
<rect x="420" y="435" width="80" height="20" fill="rgb(43,43,43)"/>
<rect x="500" y="435" width="20" height="20" fill="rgb(45,45,45)"/>
<rect x="520" y="435" width="40" height="20" fill="rgb(44,44,44)"/>
<rect x="60" y="455" width="40" height="20" fill="rgb(105,105,105)"/>
<rect x="100" y="455" width="20" height="20" fill="rgb(97,97,97)"/>
<rect x="120" y="455" width="20" height="20" fill="rgb(71,71,71)"/>
<rect x="140" y="455" width="20" height="20" fill="rgb(43,43,43)"/>
<rect x="160" y="455" width="260" height="20" fill="rgb(20,20,20)"/>
<rect x="420" y="455" width="20" height="20" fill="rgb(35,35,35)"/>
<rect x="440" y="455" width="80" height="20" fill="rgb(43,43,43)"/>
<rect x="520" y="455" width="40" height="20" fill="rgb(44,44,44)"/>
<rect x="60" y="475" width="40" height="20" fill="rgb(105,105,105)"/>
<rect x="100" y="475" width="20" height="20" fill="rgb(97,97,97)"/>
<rect x="120" y="475" width="20" height="20" fill="rgb(71,71,71)"/>
<rect x="140" y="475" width="20" height="20" fill="rgb(43,43,43)"/>
<rect x="160" y="475" width="260" height="20" fill="rgb(20,20,20)"/>
<rect x="420" y="475" width="20" height="20" fill="rgb(35,35,35)"/>
<rect x="440" y="475" width="80" height="20" fill="rgb(43,43,43)"/>
<rect x="520" y="475" width="40" height="20" fill="rgb(44,44,44)"/>
</g>
<ellipse cx="290" cy="159" rx="8" ry="6" transform="rotate(30 290 159)" fill="rgb(8,8,8)" fill-opacity="0.85"/>
<ellipse cx="232" cy="215" rx="5" ry="20" transform="rotate(-27 232 215)" fill="rgb(13,13,13)" fill-opacity="0.85"/>
<ellipse cx="242" cy="260" rx="10" ry="8" fill="rgb(8,8,8)" fill-opacity="0.85"/>
<ellipse cx="180" cy="288" rx="8" ry="11" fill="rgb(13,13,13)" fill-opacity="0.85"/>
<ellipse cx="340" cy="268" rx="8" ry="7" fill="rgb(5,5,5)" fill-opacity="0.85"/>
<ellipse cx="314" cy="259" rx="8" ry="3.5" transform="rotate(15 314 259)" fill="rgb(13,13,13)" fill-opacity="0.85"/>
<ellipse cx="329" cy="202" rx="4" ry="4" fill="rgb(13,13,13)" fill-opacity="0.85"/>
<ellipse cx="363" cy="231" rx="10" ry="5" transform="rotate(20 363 231)" fill="rgb(26,26,26)" fill-opacity="0.85"/>
<ellipse cx="325" cy="182" rx="10" ry="8" fill="rgb(158,158,158)" fill-opacity="0.85"/>
</g></g></g>
<use href="#outline" fill="none" stroke="#000" stroke-width="2.4" stroke-linejoin="round"/>
<g fill="none" stroke="#000" stroke-width="1.9" stroke-linejoin="round">
<polyline points="409.2,106.6 413.0,111.7 419.4,115.6 427.1,115.6 432.2,116.8 438.6,120.7 442.4,123.2 447.5,123.2 455.2,119.4 460.3,115.6 464.2,113.6"/>
<polyline points="301.8,155.0 314.9,170.9"/>
<polyline points="314.9,170.9 309.3,181.2 301.8,190.6 292.4,196.2 284.9,198.1 277.5,203.7 273.7,211.2 271.8,220.6 270.0,233.7 270.0,241.2 265.3,243.1 266.2,252.4 270.0,261.8 273.7,271.2 271.8,282.4 268.1,293.7 266.2,308.7 265.3,312.4 266.2,327.4 266.2,338.7 266.2,357.5 264.4,381.8 253.1,395.0 254.1,413.7 258.7,419.3 273.7,425.0 279.4,432.4 279.4,440.0 286.9,443.7 300.0,440.0 311.2,438.1 313.1,425.0 311.2,400.6 313.1,389.3 318.7,387.5 324.3,391.2 330.0,398.7 333.7,406.2 341.2,404.3 348.7,406.2 354.3,408.1 352.4,417.5 348.7,432.4 346.8,440.0 354.3,443.7 363.7,445.6"/>
<polyline points="279.4,440.0 258.7,443.7 253.1,449.3"/>
<polyline points="161.8,285.6 174.0,273.3 194.5,273.3 202.6,281.5 210.8,293.8 221.2,304.9 236.2,314.3 247.5,317.1 265.3,312.4"/>
<polyline points="314.9,170.9 322.4,170.9 331.8,171.9 337.7,171.8 344.1,174.3 346.6,179.4 350.4,179.4 354.3,173.0 359.4,171.8 365.8,174.3 369.6,179.4 369.6,187.1 374.7,188.4 383.7,188.4 388.8,192.2 392.8,196.2 392.8,203.9 396.6,212.8 396.6,219.2 391.5,226.9 392.8,233.3 400.4,237.1 415.8,237.1"/>
<polyline points="500.3,173.2 495.0,170.7 488.6,165.6 482.2,157.9 477.1,152.8 469.4,152.1 466.9,156.6 466.9,162.4 472.0,168.1 475.8,174.5 477.1,180.9 469.4,186.0 456.7,192.4 446.4,197.5 442.6,203.9 438.8,210.3 428.6,215.4 418.3,217.9 417.0,226.9 415.8,237.1"/>
<polyline points="415.8,237.1 417.0,239.7 424.7,246.0 428.6,252.4 431.1,257.5 429.8,267.8 428.9,271.0 432.5,281.5 439.6,283.9 446.8,289.8 457.5,289.8 470.7,292.2 475.4,295.8 482.6,305.3 493.3,312.5 502.0,318.5"/>
<polyline points="415.8,237.1 410.7,244.8 403.0,252.4 395.3,256.3 387.7,258.8 383.8,262.7 382.4,269.3 378.6,282.4 367.4,289.9 356.2,297.4 348.7,304.9 341.2,318.0 337.4,331.2 333.7,346.1 331.8,360.0 332.7,365.9 340.9,372.0 344.0,380.2 345.0,383.7 341.2,391.2 333.7,402.5 333.7,406.2"/>
<polyline points="345.0,383.7 356.2,380.0 371.2,378.1 382.4,380.0 386.2,376.2 388.0,357.5 397.9,355.4 407.4,360.2 409.8,362.6 415.8,353.0 424.1,347.1 426.5,350.7 427.7,357.8 432.5,367.4 437.3,373.3 434.9,379.3 443.2,388.8"/>
<polyline points="137.2,398.0 147.5,408.3 161.8,413.5 172.0,416.5 170.0,428.8 153.6,432.9 149.5,443.1 141.3,447.2 135.2,453.3 135.2,463.5 134.2,473.8"/>
<polyline points="172.0,416.5 194.5,420.6 210.8,426.7 214.9,443.1 227.2,450.2 241.5,451.3"/>
</g></g>
<g transform="translate(-0.19999999999998863,0)">
<text x="396.2" y="439.7" font-size="18.8">Wind erosion</text>
<text x="396.2" y="461" font-size="18.8">modulus</text>
<rect x="398.5" y="480.7" width="34" height="35.8" fill="url(#ramp)"/>
<path d="M432.5,480.9 H435.5 M432.5,498.4 H435.5" stroke="#999" stroke-width="0.8"/>
<text x="443.3" y="486.3" font-size="17.3">High: 1105</text>
<text x="443.3" y="522" font-size="17.3">Low: 0</text>
</g>
<g transform="translate(0,0)">
<rect x="156" y="494.2" width="143.6" height="8.5" fill="#000"/>
<rect x="192.8" y="496.1" width="35" height="5" fill="#fff"/>
<g font-size="10.8" text-anchor="middle">
<text x="157.3" y="488.8">0</text>
<text x="191.9" y="488.8">25</text>
<text x="227.8" y="488.8">50</text>
<text x="298.7" y="488.8">100</text>
</g>
<text x="302.2" y="501.9" font-size="10.8">km</text>
</g>
</g>
<g transform="translate(564.2,0.4)">
<rect x="65.5" y="48.2" width="480.5" height="480.3" fill="none" stroke="#000" stroke-width="2.9"/>
<path d="M81.2,39.3 V48.2 M202.5,39.3 V48.2 M323.4,39.3 V48.2 M445.2,39.3 V48.2 M91.3,528.5 V539.6 M218,528.5 V539.6 M344.3,528.5 V539.6 M470.8,528.5 V539.6 M55.5,82.6 H65.5 M55.5,240.2 H65.5 M55.5,399 H65.5 M546,61.6 H556.5 M546,221 H556.5 M546,379.4 H556.5" stroke="#000" stroke-width="2.2" fill="none"/>
<g font-size="15.3" text-anchor="middle">
<text x="81.0" y="34.8">107°0'0"E</text>
<text x="201.6" y="34.8">108°0'0"E</text>
<text x="322.8" y="34.8">109°0'0"E</text>
<text x="444.1" y="34.8">110°0'0"E</text>
<text x="91.6" y="554.3">107°0'0"E</text>
<text x="217.6" y="554.3">108°0'0"E</text>
<text x="343.6" y="554.3">109°0'0"E</text>
<text x="470.7" y="554.3">110°0'0"E</text>
<text transform="translate(49.3,81.2) rotate(-90)">40°0'0"N</text>
<text transform="translate(49.3,241.2) rotate(-90)">39°0'0"N</text>
<text transform="translate(49.3,397.8) rotate(-90)">38°0'0"N</text>
<text transform="translate(562.8,63.5) rotate(90)">40°0'0"N</text>
<text transform="translate(562.8,218.9) rotate(90)">39°0'0"N</text>
<text transform="translate(562.8,376.5) rotate(90)">38°0'0"N</text>
</g>
<text x="74.6" y="89.39999999999999" font-size="30">(b)</text>
<text x="125.6" y="88.8" font-size="22.5">Mean: 91.79</text>
<text x="271.8" y="88.8" font-size="22.5">STD: 343.52</text>
<g transform="translate(-0.4,-2.0)">
<g clip-path="url(#clip)"><g transform="rotate(22 300 290)" filter="url(#fb)"><g transform="rotate(-22 300 290)">
<g filter="url(#gb)">
<rect x="60" y="75" width="40" height="20" fill="rgb(71,71,71)"/>
<rect x="100" y="75" width="20" height="20" fill="rgb(85,85,85)"/>
<rect x="120" y="75" width="20" height="20" fill="rgb(96,96,96)"/>
<rect x="140" y="75" width="20" height="20" fill="rgb(97,97,97)"/>
<rect x="160" y="75" width="20" height="20" fill="rgb(109,109,109)"/>
<rect x="180" y="75" width="20" height="20" fill="rgb(119,119,119)"/>
<rect x="200" y="75" width="80" height="20" fill="rgb(122,122,122)"/>
<rect x="280" y="75" width="20" height="20" fill="rgb(114,114,114)"/>
<rect x="300" y="75" width="20" height="20" fill="rgb(97,97,97)"/>
<rect x="320" y="75" width="20" height="20" fill="rgb(56,56,56)"/>
<rect x="340" y="75" width="40" height="20" fill="rgb(20,20,20)"/>
<rect x="380" y="75" width="20" height="20" fill="rgb(64,64,64)"/>
<rect x="400" y="75" width="40" height="20" fill="rgb(122,122,122)"/>
<rect x="440" y="75" width="20" height="20" fill="rgb(78,78,78)"/>
<rect x="460" y="75" width="40" height="20" fill="rgb(71,71,71)"/>
<rect x="500" y="75" width="20" height="20" fill="rgb(52,52,52)"/>
<rect x="520" y="75" width="40" height="20" fill="rgb(43,43,43)"/>
<rect x="60" y="95" width="40" height="20" fill="rgb(71,71,71)"/>
<rect x="100" y="95" width="20" height="20" fill="rgb(85,85,85)"/>
<rect x="120" y="95" width="20" height="20" fill="rgb(96,96,96)"/>
<rect x="140" y="95" width="20" height="20" fill="rgb(97,97,97)"/>
<rect x="160" y="95" width="20" height="20" fill="rgb(109,109,109)"/>
<rect x="180" y="95" width="20" height="20" fill="rgb(119,119,119)"/>
<rect x="200" y="95" width="80" height="20" fill="rgb(122,122,122)"/>
<rect x="280" y="95" width="20" height="20" fill="rgb(114,114,114)"/>
<rect x="300" y="95" width="20" height="20" fill="rgb(97,97,97)"/>
<rect x="320" y="95" width="20" height="20" fill="rgb(56,56,56)"/>
<rect x="340" y="95" width="40" height="20" fill="rgb(20,20,20)"/>
<rect x="380" y="95" width="20" height="20" fill="rgb(64,64,64)"/>
<rect x="400" y="95" width="40" height="20" fill="rgb(122,122,122)"/>
<rect x="440" y="95" width="20" height="20" fill="rgb(78,78,78)"/>
<rect x="460" y="95" width="40" height="20" fill="rgb(71,71,71)"/>
<rect x="500" y="95" width="20" height="20" fill="rgb(52,52,52)"/>
<rect x="520" y="95" width="40" height="20" fill="rgb(43,43,43)"/>
<rect x="60" y="115" width="40" height="20" fill="rgb(110,110,110)"/>
<rect x="100" y="115" width="20" height="20" fill="rgb(71,71,71)"/>
<rect x="120" y="115" width="20" height="20" fill="rgb(88,88,88)"/>
<rect x="140" y="115" width="20" height="20" fill="rgb(95,95,95)"/>
<rect x="160" y="115" width="20" height="20" fill="rgb(97,97,97)"/>
<rect x="180" y="115" width="20" height="20" fill="rgb(110,110,110)"/>
<rect x="200" y="115" width="20" height="20" fill="rgb(116,116,116)"/>
<rect x="220" y="115" width="80" height="20" fill="rgb(122,122,122)"/>
<rect x="300" y="115" width="20" height="20" fill="rgb(97,97,97)"/>
<rect x="320" y="115" width="20" height="20" fill="rgb(71,71,71)"/>
<rect x="340" y="115" width="20" height="20" fill="rgb(38,38,38)"/>
<rect x="360" y="115" width="40" height="20" fill="rgb(20,20,20)"/>
<rect x="400" y="115" width="20" height="20" fill="rgb(97,97,97)"/>
<rect x="420" y="115" width="20" height="20" fill="rgb(43,43,43)"/>
<rect x="440" y="115" width="40" height="20" fill="rgb(71,71,71)"/>
<rect x="480" y="115" width="20" height="20" fill="rgb(50,50,50)"/>
<rect x="500" y="115" width="60" height="20" fill="rgb(43,43,43)"/>
<rect x="60" y="135" width="40" height="20" fill="rgb(145,145,145)"/>
<rect x="100" y="135" width="20" height="20" fill="rgb(110,110,110)"/>
<rect x="120" y="135" width="20" height="20" fill="rgb(71,71,71)"/>
<rect x="140" y="135" width="20" height="20" fill="rgb(87,87,87)"/>
<rect x="160" y="135" width="20" height="20" fill="rgb(94,94,94)"/>
<rect x="180" y="135" width="20" height="20" fill="rgb(97,97,97)"/>
<rect x="200" y="135" width="20" height="20" fill="rgb(106,106,106)"/>
<rect x="220" y="135" width="20" height="20" fill="rgb(110,110,110)"/>
<rect x="240" y="135" width="80" height="20" fill="rgb(122,122,122)"/>
<rect x="320" y="135" width="80" height="20" fill="rgb(43,43,43)"/>
<rect x="400" y="135" width="20" height="20" fill="rgb(97,97,97)"/>
<rect x="420" y="135" width="20" height="20" fill="rgb(20,20,20)"/>
<rect x="440" y="135" width="120" height="20" fill="rgb(43,43,43)"/>
<rect x="60" y="155" width="40" height="20" fill="rgb(134,134,134)"/>
<rect x="100" y="155" width="20" height="20" fill="rgb(145,145,145)"/>
<rect x="120" y="155" width="20" height="20" fill="rgb(110,110,110)"/>
<rect x="140" y="155" width="20" height="20" fill="rgb(71,71,71)"/>
<rect x="160" y="155" width="20" height="20" fill="rgb(86,86,86)"/>
<rect x="180" y="155" width="20" height="20" fill="rgb(91,91,91)"/>
<rect x="200" y="155" width="60" height="20" fill="rgb(97,97,97)"/>
<rect x="260" y="155" width="20" height="20" fill="rgb(122,122,122)"/>
<rect x="280" y="155" width="20" height="20" fill="rgb(71,71,71)"/>
<rect x="300" y="155" width="20" height="20" fill="rgb(122,122,122)"/>
<rect x="320" y="155" width="20" height="20" fill="rgb(71,71,71)"/>
<rect x="340" y="155" width="40" height="20" fill="rgb(43,43,43)"/>
<rect x="380" y="155" width="60" height="20" fill="rgb(20,20,20)"/>
<rect x="440" y="155" width="20" height="20" fill="rgb(43,43,43)"/>
<rect x="460" y="155" width="40" height="20" fill="rgb(20,20,20)"/>
<rect x="500" y="155" width="20" height="20" fill="rgb(43,43,43)"/>
<rect x="520" y="155" width="40" height="20" fill="rgb(36,36,36)"/>
<rect x="60" y="175" width="40" height="20" fill="rgb(124,124,124)"/>
<rect x="100" y="175" width="20" height="20" fill="rgb(131,131,131)"/>
<rect x="120" y="175" width="20" height="20" fill="rgb(145,145,145)"/>
<rect x="140" y="175" width="20" height="20" fill="rgb(111,111,111)"/>
<rect x="160" y="175" width="20" height="20" fill="rgb(71,71,71)"/>
<rect x="180" y="175" width="40" height="20" fill="rgb(84,84,84)"/>
<rect x="220" y="175" width="20" height="20" fill="rgb(97,97,97)"/>
<rect x="240" y="175" width="60" height="20" fill="rgb(71,71,71)"/>
<rect x="300" y="175" width="20" height="20" fill="rgb(97,97,97)"/>
<rect x="320" y="175" width="20" height="20" fill="rgb(43,43,43)"/>
<rect x="340" y="175" width="20" height="20" fill="rgb(71,71,71)"/>
<rect x="360" y="175" width="60" height="20" fill="rgb(20,20,20)"/>
<rect x="420" y="175" width="40" height="20" fill="rgb(43,43,43)"/>
<rect x="460" y="175" width="60" height="20" fill="rgb(20,20,20)"/>
<rect x="520" y="175" width="40" height="20" fill="rgb(28,28,28)"/>
<rect x="60" y="195" width="40" height="20" fill="rgb(122,122,122)"/>
<rect x="100" y="195" width="20" height="20" fill="rgb(125,125,125)"/>
<rect x="120" y="195" width="20" height="20" fill="rgb(132,132,132)"/>
<rect x="140" y="195" width="20" height="20" fill="rgb(145,145,145)"/>
<rect x="160" y="195" width="20" height="20" fill="rgb(114,114,114)"/>
<rect x="180" y="195" width="20" height="20" fill="rgb(71,71,71)"/>
<rect x="200" y="195" width="20" height="20" fill="rgb(84,84,84)"/>
<rect x="220" y="195" width="20" height="20" fill="rgb(71,71,71)"/>
<rect x="240" y="195" width="40" height="20" fill="rgb(97,97,97)"/>
<rect x="280" y="195" width="20" height="20" fill="rgb(145,145,145)"/>
<rect x="300" y="195" width="20" height="20" fill="rgb(122,122,122)"/>
<rect x="320" y="195" width="60" height="20" fill="rgb(71,71,71)"/>
<rect x="380" y="195" width="20" height="20" fill="rgb(20,20,20)"/>
<rect x="400" y="195" width="20" height="20" fill="rgb(43,43,43)"/>
<rect x="420" y="195" width="40" height="20" fill="rgb(20,20,20)"/>
<rect x="460" y="195" width="40" height="20" fill="rgb(43,43,43)"/>
<rect x="500" y="195" width="60" height="20" fill="rgb(20,20,20)"/>
<rect x="60" y="215" width="40" height="20" fill="rgb(119,119,119)"/>
<rect x="100" y="215" width="20" height="20" fill="rgb(122,122,122)"/>
<rect x="120" y="215" width="20" height="20" fill="rgb(128,128,128)"/>
<rect x="140" y="215" width="20" height="20" fill="rgb(134,134,134)"/>
<rect x="160" y="215" width="20" height="20" fill="rgb(145,145,145)"/>
<rect x="180" y="215" width="20" height="20" fill="rgb(122,122,122)"/>
<rect x="200" y="215" width="20" height="20" fill="rgb(71,71,71)"/>
<rect x="220" y="215" width="40" height="20" fill="rgb(97,97,97)"/>
<rect x="260" y="215" width="20" height="20" fill="rgb(145,145,145)"/>
<rect x="280" y="215" width="20" height="20" fill="rgb(122,122,122)"/>
<rect x="300" y="215" width="20" height="20" fill="rgb(145,145,145)"/>
<rect x="320" y="215" width="20" height="20" fill="rgb(122,122,122)"/>
<rect x="340" y="215" width="20" height="20" fill="rgb(43,43,43)"/>
<rect x="360" y="215" width="20" height="20" fill="rgb(71,71,71)"/>
<rect x="380" y="215" width="20" height="20" fill="rgb(43,43,43)"/>
<rect x="400" y="215" width="40" height="20" fill="rgb(20,20,20)"/>
<rect x="440" y="215" width="20" height="20" fill="rgb(43,43,43)"/>
<rect x="460" y="215" width="100" height="20" fill="rgb(20,20,20)"/>
<rect x="60" y="235" width="60" height="20" fill="rgb(116,116,116)"/>
<rect x="120" y="235" width="20" height="20" fill="rgb(122,122,122)"/>
<rect x="140" y="235" width="40" height="20" fill="rgb(134,134,134)"/>
<rect x="180" y="235" width="40" height="20" fill="rgb(145,145,145)"/>
<rect x="220" y="235" width="40" height="20" fill="rgb(97,97,97)"/>
<rect x="260" y="235" width="20" height="20" fill="rgb(145,145,145)"/>
<rect x="280" y="235" width="20" height="20" fill="rgb(97,97,97)"/>
<rect x="300" y="235" width="20" height="20" fill="rgb(122,122,122)"/>
<rect x="320" y="235" width="20" height="20" fill="rgb(97,97,97)"/>
<rect x="340" y="235" width="40" height="20" fill="rgb(71,71,71)"/>
<rect x="380" y="235" width="40" height="20" fill="rgb(20,20,20)"/>
<rect x="420" y="235" width="20" height="20" fill="rgb(43,43,43)"/>
<rect x="440" y="235" width="20" height="20" fill="rgb(71,71,71)"/>
<rect x="460" y="235" width="20" height="20" fill="rgb(43,43,43)"/>
<rect x="480" y="235" width="80" height="20" fill="rgb(20,20,20)"/>
<rect x="60" y="255" width="40" height="20" fill="rgb(107,107,107)"/>
<rect x="100" y="255" width="40" height="20" fill="rgb(110,110,110)"/>
<rect x="140" y="255" width="20" height="20" fill="rgb(122,122,122)"/>
<rect x="160" y="255" width="20" height="20" fill="rgb(145,145,145)"/>
<rect x="180" y="255" width="40" height="20" fill="rgb(122,122,122)"/>
<rect x="220" y="255" width="20" height="20" fill="rgb(71,71,71)"/>
<rect x="240" y="255" width="40" height="20" fill="rgb(145,145,145)"/>
<rect x="280" y="255" width="20" height="20" fill="rgb(122,122,122)"/>
<rect x="300" y="255" width="60" height="20" fill="rgb(71,71,71)"/>
<rect x="360" y="255" width="20" height="20" fill="rgb(97,97,97)"/>
<rect x="380" y="255" width="20" height="20" fill="rgb(20,20,20)"/>
<rect x="400" y="255" width="20" height="20" fill="rgb(43,43,43)"/>
<rect x="420" y="255" width="20" height="20" fill="rgb(20,20,20)"/>
<rect x="440" y="255" width="40" height="20" fill="rgb(43,43,43)"/>
<rect x="480" y="255" width="80" height="20" fill="rgb(20,20,20)"/>
<rect x="60" y="275" width="40" height="20" fill="rgb(89,89,89)"/>
<rect x="100" y="275" width="20" height="20" fill="rgb(95,95,95)"/>
<rect x="120" y="275" width="40" height="20" fill="rgb(97,97,97)"/>
<rect x="160" y="275" width="60" height="20" fill="rgb(71,71,71)"/>
<rect x="220" y="275" width="20" height="20" fill="rgb(122,122,122)"/>
<rect x="240" y="275" width="20" height="20" fill="rgb(145,145,145)"/>
<rect x="260" y="275" width="20" height="20" fill="rgb(122,122,122)"/>
<rect x="280" y="275" width="20" height="20" fill="rgb(97,97,97)"/>
<rect x="300" y="275" width="60" height="20" fill="rgb(71,71,71)"/>
<rect x="360" y="275" width="40" height="20" fill="rgb(20,20,20)"/>
<rect x="400" y="275" width="20" height="20" fill="rgb(71,71,71)"/>
<rect x="420" y="275" width="140" height="20" fill="rgb(20,20,20)"/>
<rect x="60" y="295" width="40" height="20" fill="rgb(71,71,71)"/>
<rect x="100" y="295" width="40" height="20" fill="rgb(80,80,80)"/>
<rect x="140" y="295" width="40" height="20" fill="rgb(71,71,71)"/>
<rect x="180" y="295" width="20" height="20" fill="rgb(97,97,97)"/>
<rect x="200" y="295" width="20" height="20" fill="rgb(122,122,122)"/>
<rect x="220" y="295" width="20" height="20" fill="rgb(97,97,97)"/>
<rect x="240" y="295" width="20" height="20" fill="rgb(145,145,145)"/>
<rect x="260" y="295" width="20" height="20" fill="rgb(97,97,97)"/>
<rect x="280" y="295" width="20" height="20" fill="rgb(71,71,71)"/>
<rect x="300" y="295" width="20" height="20" fill="rgb(43,43,43)"/>
<rect x="320" y="295" width="20" height="20" fill="rgb(71,71,71)"/>
<rect x="340" y="295" width="220" height="20" fill="rgb(20,20,20)"/>
<rect x="60" y="315" width="120" height="20" fill="rgb(71,71,71)"/>
<rect x="180" y="315" width="20" height="20" fill="rgb(43,43,43)"/>
<rect x="200" y="315" width="20" height="20" fill="rgb(122,122,122)"/>
<rect x="220" y="315" width="40" height="20" fill="rgb(145,145,145)"/>
<rect x="260" y="315" width="40" height="20" fill="rgb(71,71,71)"/>
<rect x="300" y="315" width="20" height="20" fill="rgb(43,43,43)"/>
<rect x="320" y="315" width="40" height="20" fill="rgb(20,20,20)"/>
<rect x="360" y="315" width="20" height="20" fill="rgb(43,43,43)"/>
<rect x="380" y="315" width="180" height="20" fill="rgb(20,20,20)"/>
<rect x="60" y="335" width="120" height="20" fill="rgb(71,71,71)"/>
<rect x="180" y="335" width="20" height="20" fill="rgb(20,20,20)"/>
<rect x="200" y="335" width="20" height="20" fill="rgb(43,43,43)"/>
<rect x="220" y="335" width="20" height="20" fill="rgb(71,71,71)"/>
<rect x="240" y="335" width="20" height="20" fill="rgb(122,122,122)"/>
<rect x="260" y="335" width="100" height="20" fill="rgb(43,43,43)"/>
<rect x="360" y="335" width="200" height="20" fill="rgb(20,20,20)"/>
<rect x="60" y="355" width="40" height="20" fill="rgb(68,68,68)"/>
<rect x="100" y="355" width="80" height="20" fill="rgb(71,71,71)"/>
<rect x="180" y="355" width="40" height="20" fill="rgb(20,20,20)"/>
<rect x="220" y="355" width="20" height="20" fill="rgb(43,43,43)"/>
<rect x="240" y="355" width="20" height="20" fill="rgb(71,71,71)"/>
<rect x="260" y="355" width="20" height="20" fill="rgb(20,20,20)"/>
<rect x="280" y="355" width="20" height="20" fill="rgb(43,43,43)"/>
<rect x="300" y="355" width="80" height="20" fill="rgb(20,20,20)"/>
<rect x="380" y="355" width="40" height="20" fill="rgb(43,43,43)"/>
<rect x="420" y="355" width="140" height="20" fill="rgb(20,20,20)"/>
<rect x="60" y="375" width="40" height="20" fill="rgb(57,57,57)"/>
<rect x="100" y="375" width="20" height="20" fill="rgb(62,62,62)"/>
<rect x="120" y="375" width="20" height="20" fill="rgb(71,71,71)"/>
<rect x="140" y="375" width="20" height="20" fill="rgb(97,97,97)"/>
<rect x="160" y="375" width="40" height="20" fill="rgb(71,71,71)"/>
<rect x="200" y="375" width="40" height="20" fill="rgb(43,43,43)"/>
<rect x="240" y="375" width="320" height="20" fill="rgb(20,20,20)"/>
<rect x="60" y="395" width="40" height="20" fill="rgb(43,43,43)"/>
<rect x="100" y="395" width="20" height="20" fill="rgb(50,50,50)"/>
<rect x="120" y="395" width="20" height="20" fill="rgb(43,43,43)"/>
<rect x="140" y="395" width="20" height="20" fill="rgb(71,71,71)"/>
<rect x="160" y="395" width="20" height="20" fill="rgb(97,97,97)"/>
<rect x="180" y="395" width="40" height="20" fill="rgb(71,71,71)"/>
<rect x="220" y="395" width="20" height="20" fill="rgb(43,43,43)"/>
<rect x="240" y="395" width="20" height="20" fill="rgb(20,20,20)"/>
<rect x="260" y="395" width="20" height="20" fill="rgb(43,43,43)"/>
<rect x="280" y="395" width="20" height="20" fill="rgb(20,20,20)"/>
<rect x="300" y="395" width="20" height="20" fill="rgb(43,43,43)"/>
<rect x="320" y="395" width="240" height="20" fill="rgb(20,20,20)"/>
<rect x="60" y="415" width="40" height="20" fill="rgb(62,62,62)"/>
<rect x="100" y="415" width="160" height="20" fill="rgb(43,43,43)"/>
<rect x="260" y="415" width="20" height="20" fill="rgb(20,20,20)"/>
<rect x="280" y="415" width="20" height="20" fill="rgb(71,71,71)"/>
<rect x="300" y="415" width="20" height="20" fill="rgb(43,43,43)"/>
<rect x="320" y="415" width="240" height="20" fill="rgb(20,20,20)"/>
<rect x="60" y="435" width="60" height="20" fill="rgb(71,71,71)"/>
<rect x="120" y="435" width="140" height="20" fill="rgb(43,43,43)"/>
<rect x="260" y="435" width="300" height="20" fill="rgb(20,20,20)"/>
<rect x="60" y="455" width="60" height="20" fill="rgb(71,71,71)"/>
<rect x="120" y="455" width="80" height="20" fill="rgb(43,43,43)"/>
<rect x="200" y="455" width="360" height="20" fill="rgb(20,20,20)"/>
<rect x="60" y="475" width="60" height="20" fill="rgb(71,71,71)"/>
<rect x="120" y="475" width="80" height="20" fill="rgb(43,43,43)"/>
<rect x="200" y="475" width="360" height="20" fill="rgb(20,20,20)"/>
</g>
<ellipse cx="290.8" cy="156.6" rx="8" ry="6" transform="rotate(30 290.8 156.6)" fill="rgb(8,8,8)" fill-opacity="0.85"/>
<ellipse cx="278.8" cy="188.6" rx="9" ry="8" fill="rgb(8,8,8)" fill-opacity="0.85"/>
<ellipse cx="258.8" cy="177.6" rx="5" ry="5" fill="rgb(13,13,13)" fill-opacity="0.85"/>
<ellipse cx="236.8" cy="227.6" rx="6" ry="6" fill="rgb(8,8,8)" fill-opacity="0.85"/>
<ellipse cx="241.8" cy="246.6" rx="7" ry="11" fill="rgb(8,8,8)" fill-opacity="0.85"/>
<ellipse cx="224.8" cy="219.6" rx="6" ry="6" fill="rgb(13,13,13)" fill-opacity="0.85"/>
<ellipse cx="219.8" cy="202.6" rx="6" ry="6" fill="rgb(13,13,13)" fill-opacity="0.85"/>
<ellipse cx="306.8" cy="263.6" rx="12" ry="10" fill="rgb(13,13,13)" fill-opacity="0.85"/>
<ellipse cx="196.8" cy="337.6" rx="15" ry="20" fill="rgb(8,8,8)" fill-opacity="0.85"/>
<ellipse cx="189.8" cy="374.6" rx="17" ry="12" fill="rgb(13,13,13)" fill-opacity="0.85"/>
<ellipse cx="255.8" cy="219.6" rx="7" ry="7" fill="rgb(166,166,166)" fill-opacity="0.85"/>
<ellipse cx="201.8" cy="240.6" rx="8" ry="8" fill="rgb(158,158,158)" fill-opacity="0.85"/>
<ellipse cx="248.8" cy="269.6" rx="10" ry="8" fill="rgb(173,173,173)" fill-opacity="0.85"/>
<ellipse cx="171.8" cy="263.6" rx="8" ry="8" fill="rgb(158,158,158)" fill-opacity="0.85"/>
<ellipse cx="230.8" cy="326.6" rx="30" ry="8" transform="rotate(25 230.8 326.6)" fill="rgb(153,153,153)" fill-opacity="0.85"/>
<ellipse cx="240.8" cy="292.6" rx="20" ry="12" fill="rgb(158,158,158)" fill-opacity="0.85"/>
<ellipse cx="155.8" cy="377.6" rx="15" ry="5" transform="rotate(25 155.8 377.6)" fill="rgb(140,140,140)" fill-opacity="0.85"/>
</g></g></g>
<use href="#outline" fill="none" stroke="#000" stroke-width="2.4" stroke-linejoin="round"/>
<g fill="none" stroke="#000" stroke-width="1.9" stroke-linejoin="round">
<polyline points="409.2,106.6 413.0,111.7 419.4,115.6 427.1,115.6 432.2,116.8 438.6,120.7 442.4,123.2 447.5,123.2 455.2,119.4 460.3,115.6 464.2,113.6"/>
<polyline points="301.8,155.0 314.9,170.9"/>
<polyline points="314.9,170.9 309.3,181.2 301.8,190.6 292.4,196.2 284.9,198.1 277.5,203.7 273.7,211.2 271.8,220.6 270.0,233.7 270.0,241.2 265.3,243.1 266.2,252.4 270.0,261.8 273.7,271.2 271.8,282.4 268.1,293.7 266.2,308.7 265.3,312.4 266.2,327.4 266.2,338.7 266.2,357.5 264.4,381.8 253.1,395.0 254.1,413.7 258.7,419.3 273.7,425.0 279.4,432.4 279.4,440.0 286.9,443.7 300.0,440.0 311.2,438.1 313.1,425.0 311.2,400.6 313.1,389.3 318.7,387.5 324.3,391.2 330.0,398.7 333.7,406.2 341.2,404.3 348.7,406.2 354.3,408.1 352.4,417.5 348.7,432.4 346.8,440.0 354.3,443.7 363.7,445.6"/>
<polyline points="279.4,440.0 258.7,443.7 253.1,449.3"/>
<polyline points="161.8,285.6 174.0,273.3 194.5,273.3 202.6,281.5 210.8,293.8 221.2,304.9 236.2,314.3 247.5,317.1 265.3,312.4"/>
<polyline points="314.9,170.9 322.4,170.9 331.8,171.9 337.7,171.8 344.1,174.3 346.6,179.4 350.4,179.4 354.3,173.0 359.4,171.8 365.8,174.3 369.6,179.4 369.6,187.1 374.7,188.4 383.7,188.4 388.8,192.2 392.8,196.2 392.8,203.9 396.6,212.8 396.6,219.2 391.5,226.9 392.8,233.3 400.4,237.1 415.8,237.1"/>
<polyline points="500.3,173.2 495.0,170.7 488.6,165.6 482.2,157.9 477.1,152.8 469.4,152.1 466.9,156.6 466.9,162.4 472.0,168.1 475.8,174.5 477.1,180.9 469.4,186.0 456.7,192.4 446.4,197.5 442.6,203.9 438.8,210.3 428.6,215.4 418.3,217.9 417.0,226.9 415.8,237.1"/>
<polyline points="415.8,237.1 417.0,239.7 424.7,246.0 428.6,252.4 431.1,257.5 429.8,267.8 428.9,271.0 432.5,281.5 439.6,283.9 446.8,289.8 457.5,289.8 470.7,292.2 475.4,295.8 482.6,305.3 493.3,312.5 502.0,318.5"/>
<polyline points="415.8,237.1 410.7,244.8 403.0,252.4 395.3,256.3 387.7,258.8 383.8,262.7 382.4,269.3 378.6,282.4 367.4,289.9 356.2,297.4 348.7,304.9 341.2,318.0 337.4,331.2 333.7,346.1 331.8,360.0 332.7,365.9 340.9,372.0 344.0,380.2 345.0,383.7 341.2,391.2 333.7,402.5 333.7,406.2"/>
<polyline points="345.0,383.7 356.2,380.0 371.2,378.1 382.4,380.0 386.2,376.2 388.0,357.5 397.9,355.4 407.4,360.2 409.8,362.6 415.8,353.0 424.1,347.1 426.5,350.7 427.7,357.8 432.5,367.4 437.3,373.3 434.9,379.3 443.2,388.8"/>
<polyline points="137.2,398.0 147.5,408.3 161.8,413.5 172.0,416.5 170.0,428.8 153.6,432.9 149.5,443.1 141.3,447.2 135.2,453.3 135.2,463.5 134.2,473.8"/>
<polyline points="172.0,416.5 194.5,420.6 210.8,426.7 214.9,443.1 227.2,450.2 241.5,451.3"/>
</g></g>
<g transform="translate(-2.3000000000000114,0)">
<text x="396.2" y="439.7" font-size="18.8">Wind erosion</text>
<text x="396.2" y="461" font-size="18.8">modulus</text>
<rect x="398.5" y="480.7" width="34" height="35.8" fill="url(#ramp)"/>
<path d="M432.5,480.9 H435.5 M432.5,498.4 H435.5" stroke="#999" stroke-width="0.8"/>
<text x="443.3" y="486.3" font-size="17.3">High: 1323</text>
<text x="443.3" y="522" font-size="17.3">Low: 0</text>
</g>
<g transform="translate(2.3,0)">
<rect x="156" y="494.2" width="143.6" height="8.5" fill="#000"/>
<rect x="192.8" y="496.1" width="35" height="5" fill="#fff"/>
<g font-size="10.8" text-anchor="middle">
<text x="157.3" y="488.8">0</text>
<text x="191.9" y="488.8">25</text>
<text x="227.8" y="488.8">50</text>
<text x="298.7" y="488.8">100</text>
</g>
<text x="302.2" y="501.9" font-size="10.8">km</text>
</g>
<g transform="translate(0,0)">
<text x="519.3" y="70" font-family="Liberation Sans, Arial, sans-serif" font-weight="normal" font-size="18" text-anchor="middle">N</text>
<path d="M518.9,74.8 L505.7,118.6 L518.8,102 Z" fill="#000" stroke="#000" stroke-width="0.6" stroke-linejoin="round"/>
<path d="M518.9,74.8 L531.9,118.6 L518.8,102 Z" fill="#fff" stroke="#000" stroke-width="1.5" stroke-linejoin="miter"/>
</g>
</g>
<g transform="translate(0.7,586.7)">
<rect x="65.5" y="48.2" width="480.5" height="480.3" fill="none" stroke="#000" stroke-width="2.9"/>
<path d="M81.2,39.3 V48.2 M202.5,39.3 V48.2 M323.4,39.3 V48.2 M445.2,39.3 V48.2 M91.3,528.5 V539.6 M218,528.5 V539.6 M344.3,528.5 V539.6 M470.8,528.5 V539.6 M55.5,82.6 H65.5 M55.5,240.2 H65.5 M55.5,399 H65.5 M546,61.6 H556.5 M546,221 H556.5 M546,379.4 H556.5" stroke="#000" stroke-width="2.2" fill="none"/>
<g font-size="15.3" text-anchor="middle">
<text x="81.0" y="34.8">107°0'0"E</text>
<text x="201.6" y="34.8">108°0'0"E</text>
<text x="322.8" y="34.8">109°0'0"E</text>
<text x="444.1" y="34.8">110°0'0"E</text>
<text x="91.6" y="554.3">107°0'0"E</text>
<text x="217.6" y="554.3">108°0'0"E</text>
<text x="343.6" y="554.3">109°0'0"E</text>
<text x="470.7" y="554.3">110°0'0"E</text>
<text transform="translate(49.3,81.2) rotate(-90)">40°0'0"N</text>
<text transform="translate(49.3,241.2) rotate(-90)">39°0'0"N</text>
<text transform="translate(49.3,397.8) rotate(-90)">38°0'0"N</text>
<text transform="translate(562.8,63.5) rotate(90)">40°0'0"N</text>
<text transform="translate(562.8,218.9) rotate(90)">39°0'0"N</text>
<text transform="translate(562.8,376.5) rotate(90)">38°0'0"N</text>
</g>
<text x="71.4" y="88.5" font-size="30">(c)</text>
<text x="126.9" y="87.9" font-size="22.5">Mean: 85.51</text>
<text x="266.8" y="87.9" font-size="22.5">STD: 243.86</text>
<g transform="translate(-0.4,-1.4)">
<g clip-path="url(#clip)"><g transform="rotate(22 300 290)" filter="url(#fc)"><g transform="rotate(-22 300 290)">
<g filter="url(#gb)">
<rect x="60" y="75" width="40" height="20" fill="rgb(71,71,71)"/>
<rect x="100" y="75" width="20" height="20" fill="rgb(86,86,86)"/>
<rect x="120" y="75" width="20" height="20" fill="rgb(98,98,98)"/>
<rect x="140" y="75" width="20" height="20" fill="rgb(97,97,97)"/>
<rect x="160" y="75" width="20" height="20" fill="rgb(111,111,111)"/>
<rect x="180" y="75" width="40" height="20" fill="rgb(122,122,122)"/>
<rect x="220" y="75" width="20" height="20" fill="rgb(116,116,116)"/>
<rect x="240" y="75" width="20" height="20" fill="rgb(107,107,107)"/>
<rect x="260" y="75" width="20" height="20" fill="rgb(90,90,90)"/>
<rect x="280" y="75" width="20" height="20" fill="rgb(71,71,71)"/>
<rect x="300" y="75" width="20" height="20" fill="rgb(56,56,56)"/>
<rect x="320" y="75" width="20" height="20" fill="rgb(37,37,37)"/>
<rect x="340" y="75" width="40" height="20" fill="rgb(20,20,20)"/>
<rect x="380" y="75" width="20" height="20" fill="rgb(50,50,50)"/>
<rect x="400" y="75" width="20" height="20" fill="rgb(97,97,97)"/>
<rect x="420" y="75" width="20" height="20" fill="rgb(71,71,71)"/>
<rect x="440" y="75" width="40" height="20" fill="rgb(57,57,57)"/>
<rect x="480" y="75" width="20" height="20" fill="rgb(71,71,71)"/>
<rect x="500" y="75" width="20" height="20" fill="rgb(52,52,52)"/>
<rect x="520" y="75" width="40" height="20" fill="rgb(43,43,43)"/>
<rect x="60" y="95" width="40" height="20" fill="rgb(71,71,71)"/>
<rect x="100" y="95" width="20" height="20" fill="rgb(86,86,86)"/>
<rect x="120" y="95" width="20" height="20" fill="rgb(98,98,98)"/>
<rect x="140" y="95" width="20" height="20" fill="rgb(97,97,97)"/>
<rect x="160" y="95" width="20" height="20" fill="rgb(111,111,111)"/>
<rect x="180" y="95" width="40" height="20" fill="rgb(122,122,122)"/>
<rect x="220" y="95" width="20" height="20" fill="rgb(116,116,116)"/>
<rect x="240" y="95" width="20" height="20" fill="rgb(107,107,107)"/>
<rect x="260" y="95" width="20" height="20" fill="rgb(90,90,90)"/>
<rect x="280" y="95" width="20" height="20" fill="rgb(71,71,71)"/>
<rect x="300" y="95" width="20" height="20" fill="rgb(56,56,56)"/>
<rect x="320" y="95" width="20" height="20" fill="rgb(37,37,37)"/>
<rect x="340" y="95" width="40" height="20" fill="rgb(20,20,20)"/>
<rect x="380" y="95" width="20" height="20" fill="rgb(50,50,50)"/>
<rect x="400" y="95" width="20" height="20" fill="rgb(97,97,97)"/>
<rect x="420" y="95" width="20" height="20" fill="rgb(71,71,71)"/>
<rect x="440" y="95" width="40" height="20" fill="rgb(57,57,57)"/>
<rect x="480" y="95" width="20" height="20" fill="rgb(71,71,71)"/>
<rect x="500" y="95" width="20" height="20" fill="rgb(52,52,52)"/>
<rect x="520" y="95" width="40" height="20" fill="rgb(43,43,43)"/>
<rect x="60" y="115" width="40" height="20" fill="rgb(84,84,84)"/>
<rect x="100" y="115" width="20" height="20" fill="rgb(71,71,71)"/>
<rect x="120" y="115" width="20" height="20" fill="rgb(89,89,89)"/>
<rect x="140" y="115" width="20" height="20" fill="rgb(98,98,98)"/>
<rect x="160" y="115" width="20" height="20" fill="rgb(97,97,97)"/>
<rect x="180" y="115" width="20" height="20" fill="rgb(114,114,114)"/>
<rect x="200" y="115" width="40" height="20" fill="rgb(122,122,122)"/>
<rect x="240" y="115" width="20" height="20" fill="rgb(110,110,110)"/>
<rect x="260" y="115" width="20" height="20" fill="rgb(88,88,88)"/>
<rect x="280" y="115" width="20" height="20" fill="rgb(71,71,71)"/>
<rect x="300" y="115" width="20" height="20" fill="rgb(53,53,53)"/>
<rect x="320" y="115" width="20" height="20" fill="rgb(43,43,43)"/>
<rect x="340" y="115" width="20" height="20" fill="rgb(32,32,32)"/>
<rect x="360" y="115" width="40" height="20" fill="rgb(20,20,20)"/>
<rect x="400" y="115" width="20" height="20" fill="rgb(71,71,71)"/>
<rect x="420" y="115" width="40" height="20" fill="rgb(43,43,43)"/>
<rect x="460" y="115" width="20" height="20" fill="rgb(71,71,71)"/>
<rect x="480" y="115" width="20" height="20" fill="rgb(50,50,50)"/>
<rect x="500" y="115" width="60" height="20" fill="rgb(43,43,43)"/>
<rect x="60" y="135" width="40" height="20" fill="rgb(97,97,97)"/>
<rect x="100" y="135" width="20" height="20" fill="rgb(84,84,84)"/>
<rect x="120" y="135" width="20" height="20" fill="rgb(71,71,71)"/>
<rect x="140" y="135" width="20" height="20" fill="rgb(90,90,90)"/>
<rect x="160" y="135" width="20" height="20" fill="rgb(100,100,100)"/>
<rect x="180" y="135" width="20" height="20" fill="rgb(97,97,97)"/>
<rect x="200" y="135" width="20" height="20" fill="rgb(113,113,113)"/>
<rect x="220" y="135" width="40" height="20" fill="rgb(122,122,122)"/>
<rect x="260" y="135" width="20" height="20" fill="rgb(97,97,97)"/>
<rect x="280" y="135" width="20" height="20" fill="rgb(43,43,43)"/>
<rect x="300" y="135" width="20" height="20" fill="rgb(71,71,71)"/>
<rect x="320" y="135" width="20" height="20" fill="rgb(43,43,43)"/>
<rect x="340" y="135" width="20" height="20" fill="rgb(20,20,20)"/>
<rect x="360" y="135" width="200" height="20" fill="rgb(43,43,43)"/>
<rect x="60" y="155" width="40" height="20" fill="rgb(111,111,111)"/>
<rect x="100" y="155" width="20" height="20" fill="rgb(97,97,97)"/>
<rect x="120" y="155" width="20" height="20" fill="rgb(84,84,84)"/>
<rect x="140" y="155" width="20" height="20" fill="rgb(71,71,71)"/>
<rect x="160" y="155" width="20" height="20" fill="rgb(91,91,91)"/>
<rect x="180" y="155" width="20" height="20" fill="rgb(103,103,103)"/>
<rect x="200" y="155" width="20" height="20" fill="rgb(97,97,97)"/>
<rect x="220" y="155" width="20" height="20" fill="rgb(110,110,110)"/>
<rect x="240" y="155" width="20" height="20" fill="rgb(122,122,122)"/>
<rect x="260" y="155" width="20" height="20" fill="rgb(97,97,97)"/>
<rect x="280" y="155" width="20" height="20" fill="rgb(43,43,43)"/>
<rect x="300" y="155" width="20" height="20" fill="rgb(71,71,71)"/>
<rect x="320" y="155" width="100" height="20" fill="rgb(43,43,43)"/>
<rect x="420" y="155" width="20" height="20" fill="rgb(71,71,71)"/>
<rect x="440" y="155" width="20" height="20" fill="rgb(43,43,43)"/>
<rect x="460" y="155" width="40" height="20" fill="rgb(20,20,20)"/>
<rect x="500" y="155" width="20" height="20" fill="rgb(43,43,43)"/>
<rect x="520" y="155" width="40" height="20" fill="rgb(36,36,36)"/>
<rect x="60" y="175" width="40" height="20" fill="rgb(122,122,122)"/>
<rect x="100" y="175" width="20" height="20" fill="rgb(114,114,114)"/>
<rect x="120" y="175" width="20" height="20" fill="rgb(97,97,97)"/>
<rect x="140" y="175" width="20" height="20" fill="rgb(85,85,85)"/>
<rect x="160" y="175" width="20" height="20" fill="rgb(71,71,71)"/>
<rect x="180" y="175" width="20" height="20" fill="rgb(94,94,94)"/>
<rect x="200" y="175" width="20" height="20" fill="rgb(110,110,110)"/>
<rect x="220" y="175" width="40" height="20" fill="rgb(97,97,97)"/>
<rect x="260" y="175" width="20" height="20" fill="rgb(71,71,71)"/>
<rect x="280" y="175" width="40" height="20" fill="rgb(97,97,97)"/>
<rect x="320" y="175" width="40" height="20" fill="rgb(71,71,71)"/>
<rect x="360" y="175" width="60" height="20" fill="rgb(43,43,43)"/>
<rect x="420" y="175" width="20" height="20" fill="rgb(20,20,20)"/>
<rect x="440" y="175" width="20" height="20" fill="rgb(43,43,43)"/>
<rect x="460" y="175" width="60" height="20" fill="rgb(20,20,20)"/>
<rect x="520" y="175" width="40" height="20" fill="rgb(28,28,28)"/>
<rect x="60" y="195" width="60" height="20" fill="rgb(122,122,122)"/>
<rect x="120" y="195" width="20" height="20" fill="rgb(115,115,115)"/>
<rect x="140" y="195" width="20" height="20" fill="rgb(97,97,97)"/>
<rect x="160" y="195" width="20" height="20" fill="rgb(86,86,86)"/>
<rect x="180" y="195" width="20" height="20" fill="rgb(71,71,71)"/>
<rect x="200" y="195" width="20" height="20" fill="rgb(97,97,97)"/>
<rect x="220" y="195" width="40" height="20" fill="rgb(122,122,122)"/>
<rect x="260" y="195" width="20" height="20" fill="rgb(97,97,97)"/>
<rect x="280" y="195" width="40" height="20" fill="rgb(122,122,122)"/>
<rect x="320" y="195" width="20" height="20" fill="rgb(97,97,97)"/>
<rect x="340" y="195" width="20" height="20" fill="rgb(71,71,71)"/>
<rect x="360" y="195" width="60" height="20" fill="rgb(43,43,43)"/>
<rect x="420" y="195" width="40" height="20" fill="rgb(20,20,20)"/>
<rect x="460" y="195" width="20" height="20" fill="rgb(43,43,43)"/>
<rect x="480" y="195" width="80" height="20" fill="rgb(20,20,20)"/>
<rect x="60" y="215" width="40" height="20" fill="rgb(119,119,119)"/>
<rect x="100" y="215" width="40" height="20" fill="rgb(122,122,122)"/>
<rect x="140" y="215" width="20" height="20" fill="rgb(118,118,118)"/>
<rect x="160" y="215" width="20" height="20" fill="rgb(97,97,97)"/>
<rect x="180" y="215" width="20" height="20" fill="rgb(88,88,88)"/>
<rect x="200" y="215" width="20" height="20" fill="rgb(71,71,71)"/>
<rect x="220" y="215" width="20" height="20" fill="rgb(97,97,97)"/>
<rect x="240" y="215" width="20" height="20" fill="rgb(122,122,122)"/>
<rect x="260" y="215" width="40" height="20" fill="rgb(71,71,71)"/>
<rect x="300" y="215" width="40" height="20" fill="rgb(97,97,97)"/>
<rect x="340" y="215" width="40" height="20" fill="rgb(71,71,71)"/>
<rect x="380" y="215" width="100" height="20" fill="rgb(20,20,20)"/>
<rect x="480" y="215" width="20" height="20" fill="rgb(43,43,43)"/>
<rect x="500" y="215" width="60" height="20" fill="rgb(20,20,20)"/>
<rect x="60" y="235" width="40" height="20" fill="rgb(115,115,115)"/>
<rect x="100" y="235" width="20" height="20" fill="rgb(116,116,116)"/>
<rect x="120" y="235" width="40" height="20" fill="rgb(122,122,122)"/>
<rect x="160" y="235" width="20" height="20" fill="rgb(128,128,128)"/>
<rect x="180" y="235" width="40" height="20" fill="rgb(97,97,97)"/>
<rect x="220" y="235" width="40" height="20" fill="rgb(71,71,71)"/>
<rect x="260" y="235" width="20" height="20" fill="rgb(145,145,145)"/>
<rect x="280" y="235" width="40" height="20" fill="rgb(122,122,122)"/>
<rect x="320" y="235" width="20" height="20" fill="rgb(97,97,97)"/>
<rect x="340" y="235" width="20" height="20" fill="rgb(71,71,71)"/>
<rect x="360" y="235" width="20" height="20" fill="rgb(43,43,43)"/>
<rect x="380" y="235" width="40" height="20" fill="rgb(20,20,20)"/>
<rect x="420" y="235" width="40" height="20" fill="rgb(71,71,71)"/>
<rect x="460" y="235" width="100" height="20" fill="rgb(20,20,20)"/>
<rect x="60" y="255" width="40" height="20" fill="rgb(104,104,104)"/>
<rect x="100" y="255" width="20" height="20" fill="rgb(107,107,107)"/>
<rect x="120" y="255" width="20" height="20" fill="rgb(110,110,110)"/>
<rect x="140" y="255" width="40" height="20" fill="rgb(122,122,122)"/>
<rect x="180" y="255" width="40" height="20" fill="rgb(168,168,168)"/>
<rect x="220" y="255" width="20" height="20" fill="rgb(43,43,43)"/>
<rect x="240" y="255" width="20" height="20" fill="rgb(71,71,71)"/>
<rect x="260" y="255" width="20" height="20" fill="rgb(145,145,145)"/>
<rect x="280" y="255" width="20" height="20" fill="rgb(122,122,122)"/>
<rect x="300" y="255" width="20" height="20" fill="rgb(71,71,71)"/>
<rect x="320" y="255" width="40" height="20" fill="rgb(97,97,97)"/>
<rect x="360" y="255" width="40" height="20" fill="rgb(20,20,20)"/>
<rect x="400" y="255" width="20" height="20" fill="rgb(43,43,43)"/>
<rect x="420" y="255" width="20" height="20" fill="rgb(20,20,20)"/>
<rect x="440" y="255" width="20" height="20" fill="rgb(71,71,71)"/>
<rect x="460" y="255" width="100" height="20" fill="rgb(20,20,20)"/>
<rect x="60" y="275" width="40" height="20" fill="rgb(86,86,86)"/>
<rect x="100" y="275" width="20" height="20" fill="rgb(90,90,90)"/>
<rect x="120" y="275" width="20" height="20" fill="rgb(88,88,88)"/>
<rect x="140" y="275" width="20" height="20" fill="rgb(97,97,97)"/>
<rect x="160" y="275" width="60" height="20" fill="rgb(71,71,71)"/>
<rect x="220" y="275" width="20" height="20" fill="rgb(97,97,97)"/>
<rect x="240" y="275" width="40" height="20" fill="rgb(145,145,145)"/>
<rect x="280" y="275" width="20" height="20" fill="rgb(97,97,97)"/>
<rect x="300" y="275" width="20" height="20" fill="rgb(71,71,71)"/>
<rect x="320" y="275" width="20" height="20" fill="rgb(97,97,97)"/>
<rect x="340" y="275" width="20" height="20" fill="rgb(71,71,71)"/>
<rect x="360" y="275" width="20" height="20" fill="rgb(20,20,20)"/>
<rect x="380" y="275" width="20" height="20" fill="rgb(43,43,43)"/>
<rect x="400" y="275" width="160" height="20" fill="rgb(20,20,20)"/>
<rect x="60" y="295" width="40" height="20" fill="rgb(71,71,71)"/>
<rect x="100" y="295" width="20" height="20" fill="rgb(74,74,74)"/>
<rect x="120" y="295" width="20" height="20" fill="rgb(71,71,71)"/>
<rect x="140" y="295" width="20" height="20" fill="rgb(43,43,43)"/>
<rect x="160" y="295" width="20" height="20" fill="rgb(71,71,71)"/>
<rect x="180" y="295" width="160" height="20" fill="rgb(97,97,97)"/>
<rect x="340" y="295" width="40" height="20" fill="rgb(43,43,43)"/>
<rect x="380" y="295" width="20" height="20" fill="rgb(71,71,71)"/>
<rect x="400" y="295" width="60" height="20" fill="rgb(43,43,43)"/>
<rect x="460" y="295" width="20" height="20" fill="rgb(71,71,71)"/>
<rect x="480" y="295" width="20" height="20" fill="rgb(43,43,43)"/>
<rect x="500" y="295" width="20" height="20" fill="rgb(28,28,28)"/>
<rect x="520" y="295" width="40" height="20" fill="rgb(20,20,20)"/>
<rect x="60" y="315" width="60" height="20" fill="rgb(71,71,71)"/>
<rect x="120" y="315" width="20" height="20" fill="rgb(64,64,64)"/>
<rect x="140" y="315" width="20" height="20" fill="rgb(71,71,71)"/>
<rect x="160" y="315" width="20" height="20" fill="rgb(122,122,122)"/>
<rect x="180" y="315" width="20" height="20" fill="rgb(71,71,71)"/>
<rect x="200" y="315" width="20" height="20" fill="rgb(97,97,97)"/>
<rect x="220" y="315" width="40" height="20" fill="rgb(71,71,71)"/>
<rect x="260" y="315" width="20" height="20" fill="rgb(43,43,43)"/>
<rect x="280" y="315" width="60" height="20" fill="rgb(71,71,71)"/>
<rect x="340" y="315" width="40" height="20" fill="rgb(43,43,43)"/>
<rect x="380" y="315" width="20" height="20" fill="rgb(20,20,20)"/>
<rect x="400" y="315" width="80" height="20" fill="rgb(43,43,43)"/>
<rect x="480" y="315" width="20" height="20" fill="rgb(57,57,57)"/>
<rect x="500" y="315" width="20" height="20" fill="rgb(43,43,43)"/>
<rect x="520" y="315" width="40" height="20" fill="rgb(31,31,31)"/>
<rect x="60" y="335" width="40" height="20" fill="rgb(74,74,74)"/>
<rect x="100" y="335" width="80" height="20" fill="rgb(71,71,71)"/>
<rect x="180" y="335" width="20" height="20" fill="rgb(43,43,43)"/>
<rect x="200" y="335" width="40" height="20" fill="rgb(71,71,71)"/>
<rect x="240" y="335" width="40" height="20" fill="rgb(43,43,43)"/>
<rect x="280" y="335" width="40" height="20" fill="rgb(71,71,71)"/>
<rect x="320" y="335" width="20" height="20" fill="rgb(43,43,43)"/>
<rect x="340" y="335" width="20" height="20" fill="rgb(71,71,71)"/>
<rect x="360" y="335" width="40" height="20" fill="rgb(20,20,20)"/>
<rect x="400" y="335" width="20" height="20" fill="rgb(71,71,71)"/>
<rect x="420" y="335" width="40" height="20" fill="rgb(20,20,20)"/>
<rect x="460" y="335" width="20" height="20" fill="rgb(32,32,32)"/>
<rect x="480" y="335" width="20" height="20" fill="rgb(39,39,39)"/>
<rect x="500" y="335" width="20" height="20" fill="rgb(50,50,50)"/>
<rect x="520" y="335" width="40" height="20" fill="rgb(43,43,43)"/>
<rect x="60" y="355" width="40" height="20" fill="rgb(74,74,74)"/>
<rect x="100" y="355" width="20" height="20" fill="rgb(80,80,80)"/>
<rect x="120" y="355" width="80" height="20" fill="rgb(71,71,71)"/>
<rect x="200" y="355" width="20" height="20" fill="rgb(43,43,43)"/>
<rect x="220" y="355" width="40" height="20" fill="rgb(71,71,71)"/>
<rect x="260" y="355" width="20" height="20" fill="rgb(43,43,43)"/>
<rect x="280" y="355" width="40" height="20" fill="rgb(71,71,71)"/>
<rect x="320" y="355" width="60" height="20" fill="rgb(20,20,20)"/>
<rect x="380" y="355" width="20" height="20" fill="rgb(43,43,43)"/>
<rect x="400" y="355" width="20" height="20" fill="rgb(71,71,71)"/>
<rect x="420" y="355" width="20" height="20" fill="rgb(43,43,43)"/>
<rect x="440" y="355" width="20" height="20" fill="rgb(32,32,32)"/>
<rect x="460" y="355" width="20" height="20" fill="rgb(20,20,20)"/>
<rect x="480" y="355" width="20" height="20" fill="rgb(26,26,26)"/>
<rect x="500" y="355" width="20" height="20" fill="rgb(36,36,36)"/>
<rect x="520" y="355" width="40" height="20" fill="rgb(47,47,47)"/>
<rect x="60" y="375" width="40" height="20" fill="rgb(63,63,63)"/>
<rect x="100" y="375" width="20" height="20" fill="rgb(71,71,71)"/>
<rect x="120" y="375" width="20" height="20" fill="rgb(97,97,97)"/>
<rect x="140" y="375" width="40" height="20" fill="rgb(122,122,122)"/>
<rect x="180" y="375" width="40" height="20" fill="rgb(71,71,71)"/>
<rect x="220" y="375" width="100" height="20" fill="rgb(43,43,43)"/>
<rect x="320" y="375" width="20" height="20" fill="rgb(20,20,20)"/>
<rect x="340" y="375" width="40" height="20" fill="rgb(43,43,43)"/>
<rect x="380" y="375" width="40" height="20" fill="rgb(20,20,20)"/>
<rect x="420" y="375" width="40" height="20" fill="rgb(43,43,43)"/>
<rect x="460" y="375" width="20" height="20" fill="rgb(35,35,35)"/>
<rect x="480" y="375" width="20" height="20" fill="rgb(20,20,20)"/>
<rect x="500" y="375" width="20" height="20" fill="rgb(23,23,23)"/>
<rect x="520" y="375" width="40" height="20" fill="rgb(31,31,31)"/>
<rect x="60" y="395" width="40" height="20" fill="rgb(43,43,43)"/>
<rect x="100" y="395" width="20" height="20" fill="rgb(57,57,57)"/>
<rect x="120" y="395" width="20" height="20" fill="rgb(43,43,43)"/>
<rect x="140" y="395" width="20" height="20" fill="rgb(71,71,71)"/>
<rect x="160" y="395" width="20" height="20" fill="rgb(122,122,122)"/>
<rect x="180" y="395" width="20" height="20" fill="rgb(97,97,97)"/>
<rect x="200" y="395" width="20" height="20" fill="rgb(71,71,71)"/>
<rect x="220" y="395" width="100" height="20" fill="rgb(43,43,43)"/>
<rect x="320" y="395" width="20" height="20" fill="rgb(20,20,20)"/>
<rect x="340" y="395" width="20" height="20" fill="rgb(43,43,43)"/>
<rect x="360" y="395" width="20" height="20" fill="rgb(39,39,39)"/>
<rect x="380" y="395" width="40" height="20" fill="rgb(28,28,28)"/>
<rect x="420" y="395" width="20" height="20" fill="rgb(32,32,32)"/>
<rect x="440" y="395" width="40" height="20" fill="rgb(43,43,43)"/>
<rect x="480" y="395" width="20" height="20" fill="rgb(35,35,35)"/>
<rect x="500" y="395" width="20" height="20" fill="rgb(20,20,20)"/>
<rect x="520" y="395" width="40" height="20" fill="rgb(22,22,22)"/>
<rect x="60" y="415" width="40" height="20" fill="rgb(62,62,62)"/>
<rect x="100" y="415" width="60" height="20" fill="rgb(43,43,43)"/>
<rect x="160" y="415" width="20" height="20" fill="rgb(71,71,71)"/>
<rect x="180" y="415" width="20" height="20" fill="rgb(97,97,97)"/>
<rect x="200" y="415" width="40" height="20" fill="rgb(71,71,71)"/>
<rect x="240" y="415" width="40" height="20" fill="rgb(43,43,43)"/>
<rect x="280" y="415" width="20" height="20" fill="rgb(97,97,97)"/>
<rect x="300" y="415" width="80" height="20" fill="rgb(43,43,43)"/>
<rect x="380" y="415" width="20" height="20" fill="rgb(35,35,35)"/>
<rect x="400" y="415" width="20" height="20" fill="rgb(29,29,29)"/>
<rect x="420" y="415" width="20" height="20" fill="rgb(34,34,34)"/>
<rect x="440" y="415" width="20" height="20" fill="rgb(38,38,38)"/>
<rect x="460" y="415" width="40" height="20" fill="rgb(43,43,43)"/>
<rect x="500" y="415" width="20" height="20" fill="rgb(36,36,36)"/>
<rect x="520" y="415" width="40" height="20" fill="rgb(20,20,20)"/>
<rect x="60" y="435" width="60" height="20" fill="rgb(71,71,71)"/>
<rect x="120" y="435" width="100" height="20" fill="rgb(43,43,43)"/>
<rect x="220" y="435" width="40" height="20" fill="rgb(71,71,71)"/>
<rect x="260" y="435" width="80" height="20" fill="rgb(20,20,20)"/>
<rect x="340" y="435" width="20" height="20" fill="rgb(43,43,43)"/>
<rect x="360" y="435" width="20" height="20" fill="rgb(36,36,36)"/>
<rect x="380" y="435" width="20" height="20" fill="rgb(37,37,37)"/>
<rect x="400" y="435" width="40" height="20" fill="rgb(34,34,34)"/>
<rect x="440" y="435" width="20" height="20" fill="rgb(38,38,38)"/>
<rect x="460" y="435" width="20" height="20" fill="rgb(40,40,40)"/>
<rect x="480" y="435" width="40" height="20" fill="rgb(43,43,43)"/>
<rect x="520" y="435" width="40" height="20" fill="rgb(36,36,36)"/>
<rect x="60" y="455" width="40" height="20" fill="rgb(62,62,62)"/>
<rect x="100" y="455" width="100" height="20" fill="rgb(43,43,43)"/>
<rect x="200" y="455" width="160" height="20" fill="rgb(20,20,20)"/>
<rect x="360" y="455" width="20" height="20" fill="rgb(32,32,32)"/>
<rect x="380" y="455" width="20" height="20" fill="rgb(34,34,34)"/>
<rect x="400" y="455" width="40" height="20" fill="rgb(35,35,35)"/>
<rect x="440" y="455" width="20" height="20" fill="rgb(38,38,38)"/>
<rect x="460" y="455" width="20" height="20" fill="rgb(41,41,41)"/>
<rect x="480" y="455" width="20" height="20" fill="rgb(42,42,42)"/>
<rect x="500" y="455" width="60" height="20" fill="rgb(43,43,43)"/>
<rect x="60" y="475" width="40" height="20" fill="rgb(62,62,62)"/>
<rect x="100" y="475" width="100" height="20" fill="rgb(43,43,43)"/>
<rect x="200" y="475" width="160" height="20" fill="rgb(20,20,20)"/>
<rect x="360" y="475" width="20" height="20" fill="rgb(32,32,32)"/>
<rect x="380" y="475" width="20" height="20" fill="rgb(34,34,34)"/>
<rect x="400" y="475" width="40" height="20" fill="rgb(35,35,35)"/>
<rect x="440" y="475" width="20" height="20" fill="rgb(38,38,38)"/>
<rect x="460" y="475" width="20" height="20" fill="rgb(41,41,41)"/>
<rect x="480" y="475" width="20" height="20" fill="rgb(42,42,42)"/>
<rect x="500" y="475" width="60" height="20" fill="rgb(43,43,43)"/>
</g>
<ellipse cx="201.3" cy="258.3" rx="20" ry="10" fill="rgb(191,191,191)" fill-opacity="0.85"/>
<ellipse cx="266.3" cy="248.3" rx="8" ry="8" fill="rgb(199,199,199)" fill-opacity="0.85"/>
<ellipse cx="155.3" cy="379.3" rx="16" ry="5" transform="rotate(25 155.3 379.3)" fill="rgb(153,153,153)" fill-opacity="0.85"/>
<ellipse cx="166.3" cy="405.3" rx="16" ry="6" transform="rotate(25 166.3 405.3)" fill="rgb(153,153,153)" fill-opacity="0.85"/>
<ellipse cx="254.3" cy="285.3" rx="13" ry="8" fill="rgb(166,166,166)" fill-opacity="0.85"/>
<ellipse cx="239.3" cy="251.3" rx="10" ry="14" fill="rgb(8,8,8)" fill-opacity="0.85"/>
<ellipse cx="222.3" cy="228.3" rx="8" ry="8" fill="rgb(13,13,13)" fill-opacity="0.85"/>
<ellipse cx="290.3" cy="155.3" rx="9" ry="5" fill="rgb(13,13,13)" fill-opacity="0.85"/>
<ellipse cx="204.3" cy="348.3" rx="17" ry="22" fill="rgb(13,13,13)" fill-opacity="0.85"/>
</g></g></g>
<use href="#outline" fill="none" stroke="#000" stroke-width="2.4" stroke-linejoin="round"/>
<g fill="none" stroke="#000" stroke-width="1.9" stroke-linejoin="round">
<polyline points="409.2,106.6 413.0,111.7 419.4,115.6 427.1,115.6 432.2,116.8 438.6,120.7 442.4,123.2 447.5,123.2 455.2,119.4 460.3,115.6 464.2,113.6"/>
<polyline points="301.8,155.0 314.9,170.9"/>
<polyline points="314.9,170.9 309.3,181.2 301.8,190.6 292.4,196.2 284.9,198.1 277.5,203.7 273.7,211.2 271.8,220.6 270.0,233.7 270.0,241.2 265.3,243.1 266.2,252.4 270.0,261.8 273.7,271.2 271.8,282.4 268.1,293.7 266.2,308.7 265.3,312.4 266.2,327.4 266.2,338.7 266.2,357.5 264.4,381.8 253.1,395.0 254.1,413.7 258.7,419.3 273.7,425.0 279.4,432.4 279.4,440.0 286.9,443.7 300.0,440.0 311.2,438.1 313.1,425.0 311.2,400.6 313.1,389.3 318.7,387.5 324.3,391.2 330.0,398.7 333.7,406.2 341.2,404.3 348.7,406.2 354.3,408.1 352.4,417.5 348.7,432.4 346.8,440.0 354.3,443.7 363.7,445.6"/>
<polyline points="279.4,440.0 258.7,443.7 253.1,449.3"/>
<polyline points="161.8,285.6 174.0,273.3 194.5,273.3 202.6,281.5 210.8,293.8 221.2,304.9 236.2,314.3 247.5,317.1 265.3,312.4"/>
<polyline points="314.9,170.9 322.4,170.9 331.8,171.9 337.7,171.8 344.1,174.3 346.6,179.4 350.4,179.4 354.3,173.0 359.4,171.8 365.8,174.3 369.6,179.4 369.6,187.1 374.7,188.4 383.7,188.4 388.8,192.2 392.8,196.2 392.8,203.9 396.6,212.8 396.6,219.2 391.5,226.9 392.8,233.3 400.4,237.1 415.8,237.1"/>
<polyline points="500.3,173.2 495.0,170.7 488.6,165.6 482.2,157.9 477.1,152.8 469.4,152.1 466.9,156.6 466.9,162.4 472.0,168.1 475.8,174.5 477.1,180.9 469.4,186.0 456.7,192.4 446.4,197.5 442.6,203.9 438.8,210.3 428.6,215.4 418.3,217.9 417.0,226.9 415.8,237.1"/>
<polyline points="415.8,237.1 417.0,239.7 424.7,246.0 428.6,252.4 431.1,257.5 429.8,267.8 428.9,271.0 432.5,281.5 439.6,283.9 446.8,289.8 457.5,289.8 470.7,292.2 475.4,295.8 482.6,305.3 493.3,312.5 502.0,318.5"/>
<polyline points="415.8,237.1 410.7,244.8 403.0,252.4 395.3,256.3 387.7,258.8 383.8,262.7 382.4,269.3 378.6,282.4 367.4,289.9 356.2,297.4 348.7,304.9 341.2,318.0 337.4,331.2 333.7,346.1 331.8,360.0 332.7,365.9 340.9,372.0 344.0,380.2 345.0,383.7 341.2,391.2 333.7,402.5 333.7,406.2"/>
<polyline points="345.0,383.7 356.2,380.0 371.2,378.1 382.4,380.0 386.2,376.2 388.0,357.5 397.9,355.4 407.4,360.2 409.8,362.6 415.8,353.0 424.1,347.1 426.5,350.7 427.7,357.8 432.5,367.4 437.3,373.3 434.9,379.3 443.2,388.8"/>
<polyline points="137.2,398.0 147.5,408.3 161.8,413.5 172.0,416.5 170.0,428.8 153.6,432.9 149.5,443.1 141.3,447.2 135.2,453.3 135.2,463.5 134.2,473.8"/>
<polyline points="172.0,416.5 194.5,420.6 210.8,426.7 214.9,443.1 227.2,450.2 241.5,451.3"/>
</g></g>
<g transform="translate(-0.8000000000000114,0.8)">
<text x="396.2" y="439.7" font-size="18.8">Wind erosion</text>
<text x="396.2" y="461" font-size="18.8">modulus</text>
<rect x="398.5" y="480.7" width="34" height="35.8" fill="url(#ramp)"/>
<path d="M432.5,480.9 H435.5 M432.5,498.4 H435.5" stroke="#999" stroke-width="0.8"/>
<text x="443.3" y="486.3" font-size="17.3">High: 994</text>
<text x="443.3" y="522" font-size="17.3">Low: 0</text>
</g>
<g transform="translate(2.0,0.2)">
<rect x="156" y="494.2" width="143.6" height="8.5" fill="#000"/>
<rect x="192.8" y="496.1" width="35" height="5" fill="#fff"/>
<g font-size="10.8" text-anchor="middle">
<text x="157.3" y="488.8">0</text>
<text x="191.9" y="488.8">25</text>
<text x="227.8" y="488.8">50</text>
<text x="298.7" y="488.8">100</text>
</g>
<text x="302.2" y="501.9" font-size="10.8">km</text>
</g>
<g transform="translate(-1.0,-0.9)">
<text x="519.3" y="70" font-family="Liberation Sans, Arial, sans-serif" font-weight="normal" font-size="18" text-anchor="middle">N</text>
<path d="M518.9,74.8 L505.7,118.6 L518.8,102 Z" fill="#000" stroke="#000" stroke-width="0.6" stroke-linejoin="round"/>
<path d="M518.9,74.8 L531.9,118.6 L518.8,102 Z" fill="#fff" stroke="#000" stroke-width="1.5" stroke-linejoin="miter"/>
</g>
</g>
<g transform="translate(564.7,586.4)">
<rect x="65.5" y="48.2" width="480.5" height="480.3" fill="none" stroke="#000" stroke-width="2.9"/>
<path d="M81.2,39.3 V48.2 M202.5,39.3 V48.2 M323.4,39.3 V48.2 M445.2,39.3 V48.2 M91.3,528.5 V539.6 M218,528.5 V539.6 M344.3,528.5 V539.6 M470.8,528.5 V539.6 M55.5,82.6 H65.5 M55.5,240.2 H65.5 M55.5,399 H65.5 M546,61.6 H556.5 M546,221 H556.5 M546,379.4 H556.5" stroke="#000" stroke-width="2.2" fill="none"/>
<g font-size="15.3" text-anchor="middle">
<text x="81.0" y="34.8">107°0'0"E</text>
<text x="201.6" y="34.8">108°0'0"E</text>
<text x="322.8" y="34.8">109°0'0"E</text>
<text x="444.1" y="34.8">110°0'0"E</text>
<text x="91.6" y="554.3">107°0'0"E</text>
<text x="217.6" y="554.3">108°0'0"E</text>
<text x="343.6" y="554.3">109°0'0"E</text>
<text x="470.7" y="554.3">110°0'0"E</text>
<text transform="translate(49.3,81.2) rotate(-90)">40°0'0"N</text>
<text transform="translate(49.3,241.2) rotate(-90)">39°0'0"N</text>
<text transform="translate(49.3,397.8) rotate(-90)">38°0'0"N</text>
<text transform="translate(562.8,63.5) rotate(90)">40°0'0"N</text>
<text transform="translate(562.8,218.9) rotate(90)">39°0'0"N</text>
<text transform="translate(562.8,376.5) rotate(90)">38°0'0"N</text>
</g>
<text x="71.7" y="88.39999999999999" font-size="30">(d)</text>
<text x="127.2" y="87.8" font-size="22.5">Mean: 93.76</text>
<text x="273.4" y="87.8" font-size="22.5">STD: 197.09</text>
<g transform="translate(-0.4,-1.8)">
<g clip-path="url(#clip)"><g transform="rotate(22 300 290)" filter="url(#fd)"><g transform="rotate(-22 300 290)">
<g filter="url(#gb)">
<rect x="60" y="75" width="100" height="20" fill="rgb(71,71,71)"/>
<rect x="160" y="75" width="20" height="20" fill="rgb(85,85,85)"/>
<rect x="180" y="75" width="60" height="20" fill="rgb(97,97,97)"/>
<rect x="240" y="75" width="20" height="20" fill="rgb(91,91,91)"/>
<rect x="260" y="75" width="20" height="20" fill="rgb(86,86,86)"/>
<rect x="280" y="75" width="20" height="20" fill="rgb(74,74,74)"/>
<rect x="300" y="75" width="20" height="20" fill="rgb(68,68,68)"/>
<rect x="320" y="75" width="20" height="20" fill="rgb(44,44,44)"/>
<rect x="340" y="75" width="40" height="20" fill="rgb(20,20,20)"/>
<rect x="380" y="75" width="20" height="20" fill="rgb(50,50,50)"/>
<rect x="400" y="75" width="20" height="20" fill="rgb(97,97,97)"/>
<rect x="420" y="75" width="20" height="20" fill="rgb(71,71,71)"/>
<rect x="440" y="75" width="20" height="20" fill="rgb(64,64,64)"/>
<rect x="460" y="75" width="40" height="20" fill="rgb(71,71,71)"/>
<rect x="500" y="75" width="20" height="20" fill="rgb(52,52,52)"/>
<rect x="520" y="75" width="40" height="20" fill="rgb(43,43,43)"/>
<rect x="60" y="95" width="100" height="20" fill="rgb(71,71,71)"/>
<rect x="160" y="95" width="20" height="20" fill="rgb(85,85,85)"/>
<rect x="180" y="95" width="60" height="20" fill="rgb(97,97,97)"/>
<rect x="240" y="95" width="20" height="20" fill="rgb(91,91,91)"/>
<rect x="260" y="95" width="20" height="20" fill="rgb(86,86,86)"/>
<rect x="280" y="95" width="20" height="20" fill="rgb(74,74,74)"/>
<rect x="300" y="95" width="20" height="20" fill="rgb(68,68,68)"/>
<rect x="320" y="95" width="20" height="20" fill="rgb(44,44,44)"/>
<rect x="340" y="95" width="40" height="20" fill="rgb(20,20,20)"/>
<rect x="380" y="95" width="20" height="20" fill="rgb(50,50,50)"/>
<rect x="400" y="95" width="20" height="20" fill="rgb(97,97,97)"/>
<rect x="420" y="95" width="20" height="20" fill="rgb(71,71,71)"/>
<rect x="440" y="95" width="20" height="20" fill="rgb(64,64,64)"/>
<rect x="460" y="95" width="40" height="20" fill="rgb(71,71,71)"/>
<rect x="500" y="95" width="20" height="20" fill="rgb(52,52,52)"/>
<rect x="520" y="95" width="40" height="20" fill="rgb(43,43,43)"/>
<rect x="60" y="115" width="40" height="20" fill="rgb(84,84,84)"/>
<rect x="100" y="115" width="80" height="20" fill="rgb(71,71,71)"/>
<rect x="180" y="115" width="20" height="20" fill="rgb(88,88,88)"/>
<rect x="200" y="115" width="60" height="20" fill="rgb(97,97,97)"/>
<rect x="260" y="115" width="40" height="20" fill="rgb(80,80,80)"/>
<rect x="300" y="115" width="40" height="20" fill="rgb(62,62,62)"/>
<rect x="340" y="115" width="20" height="20" fill="rgb(38,38,38)"/>
<rect x="360" y="115" width="40" height="20" fill="rgb(20,20,20)"/>
<rect x="400" y="115" width="20" height="20" fill="rgb(71,71,71)"/>
<rect x="420" y="115" width="20" height="20" fill="rgb(43,43,43)"/>
<rect x="440" y="115" width="40" height="20" fill="rgb(71,71,71)"/>
<rect x="480" y="115" width="20" height="20" fill="rgb(50,50,50)"/>
<rect x="500" y="115" width="60" height="20" fill="rgb(43,43,43)"/>
<rect x="60" y="135" width="40" height="20" fill="rgb(97,97,97)"/>
<rect x="100" y="135" width="20" height="20" fill="rgb(84,84,84)"/>
<rect x="120" y="135" width="80" height="20" fill="rgb(71,71,71)"/>
<rect x="200" y="135" width="20" height="20" fill="rgb(87,87,87)"/>
<rect x="220" y="135" width="60" height="20" fill="rgb(97,97,97)"/>
<rect x="280" y="135" width="20" height="20" fill="rgb(43,43,43)"/>
<rect x="300" y="135" width="20" height="20" fill="rgb(97,97,97)"/>
<rect x="320" y="135" width="60" height="20" fill="rgb(43,43,43)"/>
<rect x="380" y="135" width="40" height="20" fill="rgb(71,71,71)"/>
<rect x="420" y="135" width="20" height="20" fill="rgb(43,43,43)"/>
<rect x="440" y="135" width="20" height="20" fill="rgb(71,71,71)"/>
<rect x="460" y="135" width="100" height="20" fill="rgb(43,43,43)"/>
<rect x="60" y="155" width="40" height="20" fill="rgb(98,98,98)"/>
<rect x="100" y="155" width="20" height="20" fill="rgb(97,97,97)"/>
<rect x="120" y="155" width="20" height="20" fill="rgb(84,84,84)"/>
<rect x="140" y="155" width="80" height="20" fill="rgb(71,71,71)"/>
<rect x="220" y="155" width="20" height="20" fill="rgb(84,84,84)"/>
<rect x="240" y="155" width="40" height="20" fill="rgb(97,97,97)"/>
<rect x="280" y="155" width="20" height="20" fill="rgb(43,43,43)"/>
<rect x="300" y="155" width="20" height="20" fill="rgb(97,97,97)"/>
<rect x="320" y="155" width="20" height="20" fill="rgb(71,71,71)"/>
<rect x="340" y="155" width="40" height="20" fill="rgb(43,43,43)"/>
<rect x="380" y="155" width="20" height="20" fill="rgb(20,20,20)"/>
<rect x="400" y="155" width="60" height="20" fill="rgb(43,43,43)"/>
<rect x="460" y="155" width="40" height="20" fill="rgb(20,20,20)"/>
<rect x="500" y="155" width="20" height="20" fill="rgb(43,43,43)"/>
<rect x="520" y="155" width="40" height="20" fill="rgb(36,36,36)"/>
<rect x="60" y="175" width="60" height="20" fill="rgb(98,98,98)"/>
<rect x="120" y="175" width="20" height="20" fill="rgb(97,97,97)"/>
<rect x="140" y="175" width="20" height="20" fill="rgb(85,85,85)"/>
<rect x="160" y="175" width="100" height="20" fill="rgb(71,71,71)"/>
<rect x="260" y="175" width="20" height="20" fill="rgb(97,97,97)"/>
<rect x="280" y="175" width="20" height="20" fill="rgb(71,71,71)"/>
<rect x="300" y="175" width="20" height="20" fill="rgb(97,97,97)"/>
<rect x="320" y="175" width="40" height="20" fill="rgb(71,71,71)"/>
<rect x="360" y="175" width="20" height="20" fill="rgb(43,43,43)"/>
<rect x="380" y="175" width="60" height="20" fill="rgb(20,20,20)"/>
<rect x="440" y="175" width="20" height="20" fill="rgb(43,43,43)"/>
<rect x="460" y="175" width="60" height="20" fill="rgb(20,20,20)"/>
<rect x="520" y="175" width="40" height="20" fill="rgb(28,28,28)"/>
<rect x="60" y="195" width="40" height="20" fill="rgb(97,97,97)"/>
<rect x="100" y="195" width="40" height="20" fill="rgb(100,100,100)"/>
<rect x="140" y="195" width="20" height="20" fill="rgb(97,97,97)"/>
<rect x="160" y="195" width="20" height="20" fill="rgb(86,86,86)"/>
<rect x="180" y="195" width="60" height="20" fill="rgb(71,71,71)"/>
<rect x="240" y="195" width="20" height="20" fill="rgb(122,122,122)"/>
<rect x="260" y="195" width="40" height="20" fill="rgb(97,97,97)"/>
<rect x="300" y="195" width="20" height="20" fill="rgb(122,122,122)"/>
<rect x="320" y="195" width="40" height="20" fill="rgb(71,71,71)"/>
<rect x="360" y="195" width="40" height="20" fill="rgb(43,43,43)"/>
<rect x="400" y="195" width="160" height="20" fill="rgb(20,20,20)"/>
<rect x="60" y="215" width="60" height="20" fill="rgb(97,97,97)"/>
<rect x="120" y="215" width="20" height="20" fill="rgb(103,103,103)"/>
<rect x="140" y="215" width="20" height="20" fill="rgb(102,102,102)"/>
<rect x="160" y="215" width="20" height="20" fill="rgb(97,97,97)"/>
<rect x="180" y="215" width="20" height="20" fill="rgb(88,88,88)"/>
<rect x="200" y="215" width="40" height="20" fill="rgb(71,71,71)"/>
<rect x="240" y="215" width="20" height="20" fill="rgb(97,97,97)"/>
<rect x="260" y="215" width="20" height="20" fill="rgb(71,71,71)"/>
<rect x="280" y="215" width="20" height="20" fill="rgb(97,97,97)"/>
<rect x="300" y="215" width="20" height="20" fill="rgb(122,122,122)"/>
<rect x="320" y="215" width="20" height="20" fill="rgb(97,97,97)"/>
<rect x="340" y="215" width="40" height="20" fill="rgb(71,71,71)"/>
<rect x="380" y="215" width="20" height="20" fill="rgb(43,43,43)"/>
<rect x="400" y="215" width="160" height="20" fill="rgb(20,20,20)"/>
<rect x="60" y="235" width="40" height="20" fill="rgb(95,95,95)"/>
<rect x="100" y="235" width="40" height="20" fill="rgb(97,97,97)"/>
<rect x="140" y="235" width="20" height="20" fill="rgb(110,110,110)"/>
<rect x="160" y="235" width="20" height="20" fill="rgb(103,103,103)"/>
<rect x="180" y="235" width="40" height="20" fill="rgb(97,97,97)"/>
<rect x="220" y="235" width="20" height="20" fill="rgb(71,71,71)"/>
<rect x="240" y="235" width="20" height="20" fill="rgb(43,43,43)"/>
<rect x="260" y="235" width="20" height="20" fill="rgb(97,97,97)"/>
<rect x="280" y="235" width="40" height="20" fill="rgb(122,122,122)"/>
<rect x="320" y="235" width="20" height="20" fill="rgb(97,97,97)"/>
<rect x="340" y="235" width="40" height="20" fill="rgb(71,71,71)"/>
<rect x="380" y="235" width="20" height="20" fill="rgb(43,43,43)"/>
<rect x="400" y="235" width="20" height="20" fill="rgb(20,20,20)"/>
<rect x="420" y="235" width="40" height="20" fill="rgb(43,43,43)"/>
<rect x="460" y="235" width="100" height="20" fill="rgb(20,20,20)"/>
<rect x="60" y="255" width="40" height="20" fill="rgb(89,89,89)"/>
<rect x="100" y="255" width="20" height="20" fill="rgb(91,91,91)"/>
<rect x="120" y="255" width="40" height="20" fill="rgb(97,97,97)"/>
<rect x="160" y="255" width="20" height="20" fill="rgb(122,122,122)"/>
<rect x="180" y="255" width="40" height="20" fill="rgb(97,97,97)"/>
<rect x="220" y="255" width="20" height="20" fill="rgb(43,43,43)"/>
<rect x="240" y="255" width="20" height="20" fill="rgb(71,71,71)"/>
<rect x="260" y="255" width="20" height="20" fill="rgb(122,122,122)"/>
<rect x="280" y="255" width="40" height="20" fill="rgb(97,97,97)"/>
<rect x="320" y="255" width="40" height="20" fill="rgb(71,71,71)"/>
<rect x="360" y="255" width="60" height="20" fill="rgb(43,43,43)"/>
<rect x="420" y="255" width="20" height="20" fill="rgb(20,20,20)"/>
<rect x="440" y="255" width="20" height="20" fill="rgb(43,43,43)"/>
<rect x="460" y="255" width="100" height="20" fill="rgb(20,20,20)"/>
<rect x="60" y="275" width="40" height="20" fill="rgb(69,69,69)"/>
<rect x="100" y="275" width="40" height="20" fill="rgb(80,80,80)"/>
<rect x="140" y="275" width="20" height="20" fill="rgb(97,97,97)"/>
<rect x="160" y="275" width="20" height="20" fill="rgb(43,43,43)"/>
<rect x="180" y="275" width="40" height="20" fill="rgb(71,71,71)"/>
<rect x="220" y="275" width="60" height="20" fill="rgb(97,97,97)"/>
<rect x="280" y="275" width="60" height="20" fill="rgb(71,71,71)"/>
<rect x="340" y="275" width="80" height="20" fill="rgb(43,43,43)"/>
<rect x="420" y="275" width="140" height="20" fill="rgb(20,20,20)"/>
<rect x="60" y="295" width="40" height="20" fill="rgb(43,43,43)"/>
<rect x="100" y="295" width="20" height="20" fill="rgb(57,57,57)"/>
<rect x="120" y="295" width="20" height="20" fill="rgb(62,62,62)"/>
<rect x="140" y="295" width="40" height="20" fill="rgb(43,43,43)"/>
<rect x="180" y="295" width="20" height="20" fill="rgb(71,71,71)"/>
<rect x="200" y="295" width="20" height="20" fill="rgb(97,97,97)"/>
<rect x="220" y="295" width="20" height="20" fill="rgb(71,71,71)"/>
<rect x="240" y="295" width="20" height="20" fill="rgb(97,97,97)"/>
<rect x="260" y="295" width="40" height="20" fill="rgb(71,71,71)"/>
<rect x="300" y="295" width="20" height="20" fill="rgb(43,43,43)"/>
<rect x="320" y="295" width="20" height="20" fill="rgb(71,71,71)"/>
<rect x="340" y="295" width="80" height="20" fill="rgb(43,43,43)"/>
<rect x="420" y="295" width="140" height="20" fill="rgb(20,20,20)"/>
<rect x="60" y="315" width="40" height="20" fill="rgb(50,50,50)"/>
<rect x="100" y="315" width="80" height="20" fill="rgb(43,43,43)"/>
<rect x="180" y="315" width="40" height="20" fill="rgb(71,71,71)"/>
<rect x="220" y="315" width="20" height="20" fill="rgb(43,43,43)"/>
<rect x="240" y="315" width="20" height="20" fill="rgb(71,71,71)"/>
<rect x="260" y="315" width="20" height="20" fill="rgb(97,97,97)"/>
<rect x="280" y="315" width="20" height="20" fill="rgb(71,71,71)"/>
<rect x="300" y="315" width="80" height="20" fill="rgb(43,43,43)"/>
<rect x="380" y="315" width="20" height="20" fill="rgb(20,20,20)"/>
<rect x="400" y="315" width="20" height="20" fill="rgb(43,43,43)"/>
<rect x="420" y="315" width="140" height="20" fill="rgb(20,20,20)"/>
<rect x="60" y="335" width="60" height="20" fill="rgb(57,57,57)"/>
<rect x="120" y="335" width="60" height="20" fill="rgb(43,43,43)"/>
<rect x="180" y="335" width="20" height="20" fill="rgb(20,20,20)"/>
<rect x="200" y="335" width="40" height="20" fill="rgb(43,43,43)"/>
<rect x="240" y="335" width="20" height="20" fill="rgb(71,71,71)"/>
<rect x="260" y="335" width="20" height="20" fill="rgb(43,43,43)"/>
<rect x="280" y="335" width="20" height="20" fill="rgb(71,71,71)"/>
<rect x="300" y="335" width="40" height="20" fill="rgb(43,43,43)"/>
<rect x="340" y="335" width="20" height="20" fill="rgb(20,20,20)"/>
<rect x="360" y="335" width="20" height="20" fill="rgb(43,43,43)"/>
<rect x="380" y="335" width="20" height="20" fill="rgb(20,20,20)"/>
<rect x="400" y="335" width="20" height="20" fill="rgb(43,43,43)"/>
<rect x="420" y="335" width="140" height="20" fill="rgb(20,20,20)"/>
<rect x="60" y="355" width="40" height="20" fill="rgb(70,70,70)"/>
<rect x="100" y="355" width="60" height="20" fill="rgb(71,71,71)"/>
<rect x="160" y="355" width="20" height="20" fill="rgb(43,43,43)"/>
<rect x="180" y="355" width="40" height="20" fill="rgb(20,20,20)"/>
<rect x="220" y="355" width="20" height="20" fill="rgb(43,43,43)"/>
<rect x="240" y="355" width="20" height="20" fill="rgb(71,71,71)"/>
<rect x="260" y="355" width="60" height="20" fill="rgb(43,43,43)"/>
<rect x="320" y="355" width="60" height="20" fill="rgb(20,20,20)"/>
<rect x="380" y="355" width="40" height="20" fill="rgb(43,43,43)"/>
<rect x="420" y="355" width="140" height="20" fill="rgb(20,20,20)"/>
<rect x="60" y="375" width="40" height="20" fill="rgb(77,77,77)"/>
<rect x="100" y="375" width="20" height="20" fill="rgb(80,80,80)"/>
<rect x="120" y="375" width="20" height="20" fill="rgb(97,97,97)"/>
<rect x="140" y="375" width="80" height="20" fill="rgb(71,71,71)"/>
<rect x="220" y="375" width="40" height="20" fill="rgb(43,43,43)"/>
<rect x="260" y="375" width="20" height="20" fill="rgb(20,20,20)"/>
<rect x="280" y="375" width="20" height="20" fill="rgb(43,43,43)"/>
<rect x="300" y="375" width="40" height="20" fill="rgb(20,20,20)"/>
<rect x="340" y="375" width="20" height="20" fill="rgb(43,43,43)"/>
<rect x="360" y="375" width="200" height="20" fill="rgb(20,20,20)"/>
<rect x="60" y="395" width="40" height="20" fill="rgb(71,71,71)"/>
<rect x="100" y="395" width="20" height="20" fill="rgb(84,84,84)"/>
<rect x="120" y="395" width="100" height="20" fill="rgb(71,71,71)"/>
<rect x="220" y="395" width="100" height="20" fill="rgb(43,43,43)"/>
<rect x="320" y="395" width="40" height="20" fill="rgb(20,20,20)"/>
<rect x="360" y="395" width="20" height="20" fill="rgb(25,25,25)"/>
<rect x="380" y="395" width="180" height="20" fill="rgb(20,20,20)"/>
<rect x="60" y="415" width="40" height="20" fill="rgb(80,80,80)"/>
<rect x="100" y="415" width="20" height="20" fill="rgb(71,71,71)"/>
<rect x="120" y="415" width="20" height="20" fill="rgb(97,97,97)"/>
<rect x="140" y="415" width="100" height="20" fill="rgb(71,71,71)"/>
<rect x="240" y="415" width="40" height="20" fill="rgb(43,43,43)"/>
<rect x="280" y="415" width="20" height="20" fill="rgb(71,71,71)"/>
<rect x="300" y="415" width="20" height="20" fill="rgb(43,43,43)"/>
<rect x="320" y="415" width="60" height="20" fill="rgb(20,20,20)"/>
<rect x="380" y="415" width="20" height="20" fill="rgb(21,21,21)"/>
<rect x="400" y="415" width="160" height="20" fill="rgb(20,20,20)"/>
<rect x="60" y="435" width="40" height="20" fill="rgb(97,97,97)"/>
<rect x="100" y="435" width="20" height="20" fill="rgb(71,71,71)"/>
<rect x="120" y="435" width="20" height="20" fill="rgb(97,97,97)"/>
<rect x="140" y="435" width="60" height="20" fill="rgb(71,71,71)"/>
<rect x="200" y="435" width="20" height="20" fill="rgb(43,43,43)"/>
<rect x="220" y="435" width="40" height="20" fill="rgb(71,71,71)"/>
<rect x="260" y="435" width="140" height="20" fill="rgb(20,20,20)"/>
<rect x="400" y="435" width="20" height="20" fill="rgb(21,21,21)"/>
<rect x="420" y="435" width="140" height="20" fill="rgb(20,20,20)"/>
<rect x="60" y="455" width="40" height="20" fill="rgb(97,97,97)"/>
<rect x="100" y="455" width="20" height="20" fill="rgb(122,122,122)"/>
<rect x="120" y="455" width="20" height="20" fill="rgb(71,71,71)"/>
<rect x="140" y="455" width="80" height="20" fill="rgb(43,43,43)"/>
<rect x="220" y="455" width="340" height="20" fill="rgb(20,20,20)"/>
<rect x="60" y="475" width="40" height="20" fill="rgb(97,97,97)"/>
<rect x="100" y="475" width="20" height="20" fill="rgb(122,122,122)"/>
<rect x="120" y="475" width="20" height="20" fill="rgb(71,71,71)"/>
<rect x="140" y="475" width="80" height="20" fill="rgb(43,43,43)"/>
<rect x="220" y="475" width="340" height="20" fill="rgb(20,20,20)"/>
</g>
<ellipse cx="290.3" cy="155.6" rx="8" ry="7" fill="rgb(8,8,8)" fill-opacity="0.85"/>
<ellipse cx="276.3" cy="187.6" rx="8" ry="8" fill="rgb(13,13,13)" fill-opacity="0.85"/>
<ellipse cx="238.3" cy="243.6" rx="9" ry="18" transform="rotate(-20 238.3 243.6)" fill="rgb(8,8,8)" fill-opacity="0.85"/>
<ellipse cx="219.3" cy="209.6" rx="8" ry="8" fill="rgb(13,13,13)" fill-opacity="0.85"/>
<ellipse cx="203.3" cy="354.6" rx="18" ry="18" fill="rgb(13,13,13)" fill-opacity="0.85"/>
<ellipse cx="179.3" cy="263.6" rx="14" ry="5" fill="rgb(173,173,173)" fill-opacity="0.85"/>
<ellipse cx="220.3" cy="238.6" rx="6" ry="6" fill="rgb(148,148,148)" fill-opacity="0.85"/>
<ellipse cx="120.3" cy="463.6" rx="10" ry="10" fill="rgb(140,140,140)" fill-opacity="0.85"/>
</g></g></g>
<use href="#outline" fill="none" stroke="#000" stroke-width="2.4" stroke-linejoin="round"/>
<g fill="none" stroke="#000" stroke-width="1.9" stroke-linejoin="round">
<polyline points="409.2,106.6 413.0,111.7 419.4,115.6 427.1,115.6 432.2,116.8 438.6,120.7 442.4,123.2 447.5,123.2 455.2,119.4 460.3,115.6 464.2,113.6"/>
<polyline points="301.8,155.0 314.9,170.9"/>
<polyline points="314.9,170.9 309.3,181.2 301.8,190.6 292.4,196.2 284.9,198.1 277.5,203.7 273.7,211.2 271.8,220.6 270.0,233.7 270.0,241.2 265.3,243.1 266.2,252.4 270.0,261.8 273.7,271.2 271.8,282.4 268.1,293.7 266.2,308.7 265.3,312.4 266.2,327.4 266.2,338.7 266.2,357.5 264.4,381.8 253.1,395.0 254.1,413.7 258.7,419.3 273.7,425.0 279.4,432.4 279.4,440.0 286.9,443.7 300.0,440.0 311.2,438.1 313.1,425.0 311.2,400.6 313.1,389.3 318.7,387.5 324.3,391.2 330.0,398.7 333.7,406.2 341.2,404.3 348.7,406.2 354.3,408.1 352.4,417.5 348.7,432.4 346.8,440.0 354.3,443.7 363.7,445.6"/>
<polyline points="279.4,440.0 258.7,443.7 253.1,449.3"/>
<polyline points="161.8,285.6 174.0,273.3 194.5,273.3 202.6,281.5 210.8,293.8 221.2,304.9 236.2,314.3 247.5,317.1 265.3,312.4"/>
<polyline points="314.9,170.9 322.4,170.9 331.8,171.9 337.7,171.8 344.1,174.3 346.6,179.4 350.4,179.4 354.3,173.0 359.4,171.8 365.8,174.3 369.6,179.4 369.6,187.1 374.7,188.4 383.7,188.4 388.8,192.2 392.8,196.2 392.8,203.9 396.6,212.8 396.6,219.2 391.5,226.9 392.8,233.3 400.4,237.1 415.8,237.1"/>
<polyline points="500.3,173.2 495.0,170.7 488.6,165.6 482.2,157.9 477.1,152.8 469.4,152.1 466.9,156.6 466.9,162.4 472.0,168.1 475.8,174.5 477.1,180.9 469.4,186.0 456.7,192.4 446.4,197.5 442.6,203.9 438.8,210.3 428.6,215.4 418.3,217.9 417.0,226.9 415.8,237.1"/>
<polyline points="415.8,237.1 417.0,239.7 424.7,246.0 428.6,252.4 431.1,257.5 429.8,267.8 428.9,271.0 432.5,281.5 439.6,283.9 446.8,289.8 457.5,289.8 470.7,292.2 475.4,295.8 482.6,305.3 493.3,312.5 502.0,318.5"/>
<polyline points="415.8,237.1 410.7,244.8 403.0,252.4 395.3,256.3 387.7,258.8 383.8,262.7 382.4,269.3 378.6,282.4 367.4,289.9 356.2,297.4 348.7,304.9 341.2,318.0 337.4,331.2 333.7,346.1 331.8,360.0 332.7,365.9 340.9,372.0 344.0,380.2 345.0,383.7 341.2,391.2 333.7,402.5 333.7,406.2"/>
<polyline points="345.0,383.7 356.2,380.0 371.2,378.1 382.4,380.0 386.2,376.2 388.0,357.5 397.9,355.4 407.4,360.2 409.8,362.6 415.8,353.0 424.1,347.1 426.5,350.7 427.7,357.8 432.5,367.4 437.3,373.3 434.9,379.3 443.2,388.8"/>
<polyline points="137.2,398.0 147.5,408.3 161.8,413.5 172.0,416.5 170.0,428.8 153.6,432.9 149.5,443.1 141.3,447.2 135.2,453.3 135.2,463.5 134.2,473.8"/>
<polyline points="172.0,416.5 194.5,420.6 210.8,426.7 214.9,443.1 227.2,450.2 241.5,451.3"/>
</g></g>
<g transform="translate(-0.5,-1.1)">
<text x="396.2" y="439.7" font-size="18.8">Wind erosion</text>
<text x="396.2" y="461" font-size="18.8">modulus</text>
<rect x="398.5" y="480.7" width="34" height="35.8" fill="url(#ramp)"/>
<path d="M432.5,480.9 H435.5 M432.5,498.4 H435.5" stroke="#999" stroke-width="0.8"/>
<text x="443.3" y="486.3" font-size="17.3">High: 920</text>
<text x="443.3" y="522" font-size="17.3">Low: 0</text>
</g>
<g transform="translate(1.8,-0.3)">
<rect x="156" y="494.2" width="143.6" height="8.5" fill="#000"/>
<rect x="192.8" y="496.1" width="35" height="5" fill="#fff"/>
<g font-size="10.8" text-anchor="middle">
<text x="157.3" y="488.8">0</text>
<text x="191.9" y="488.8">25</text>
<text x="227.8" y="488.8">50</text>
<text x="298.7" y="488.8">100</text>
</g>
<text x="302.2" y="501.9" font-size="10.8">km</text>
</g>
<g transform="translate(-1.0,-1.2)">
<text x="519.3" y="70" font-family="Liberation Sans, Arial, sans-serif" font-weight="normal" font-size="18" text-anchor="middle">N</text>
<path d="M518.9,74.8 L505.7,118.6 L518.8,102 Z" fill="#000" stroke="#000" stroke-width="0.6" stroke-linejoin="round"/>
<path d="M518.9,74.8 L531.9,118.6 L518.8,102 Z" fill="#fff" stroke="#000" stroke-width="1.5" stroke-linejoin="miter"/>
</g>
</g>
</svg>
</body></html>
